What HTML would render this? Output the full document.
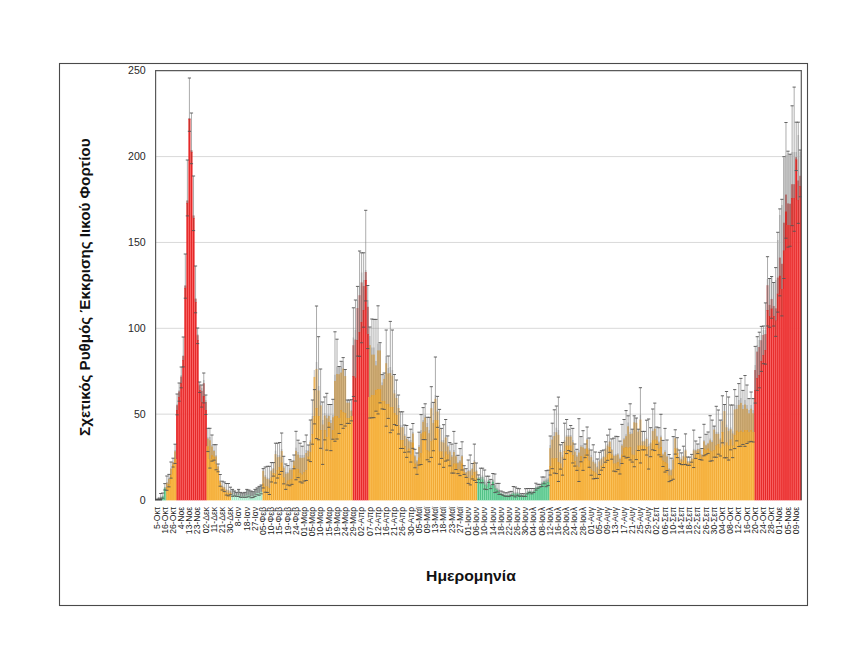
<!DOCTYPE html>
<html><head><meta charset="utf-8"><style>
html,body{margin:0;padding:0;background:#fff;}
body{width:868px;height:671px;overflow:hidden;}
svg{display:block;font-family:"Liberation Sans",sans-serif;}
</style></head><body>
<svg width="868" height="671" viewBox="0 0 868 671">
<rect width="868" height="671" fill="#fff"/>
<rect x="59.5" y="63.5" width="748" height="542" fill="none" stroke="#4a4a4a" stroke-width="1.1"/>
<g stroke="#D9D9D9" stroke-width="1"><line x1="156" x2="801.5" y1="414.15" y2="414.15"/><line x1="156" x2="801.5" y1="328.30" y2="328.30"/><line x1="156" x2="801.5" y1="242.45" y2="242.45"/><line x1="156" x2="801.5" y1="156.60" y2="156.60"/></g>
<g>
<rect x="157.85" y="496.90" width="1.64" height="1.80" fill="#D2D2D2"/>
<rect x="157.75" y="497.55" width="1.84" height="1.15" fill="#888"/>
<rect x="159.91" y="496.43" width="1.64" height="2.07" fill="#D2D2D2"/>
<rect x="159.80" y="497.21" width="1.84" height="1.29" fill="#888"/>
<rect x="161.96" y="495.60" width="1.64" height="1.90" fill="#D2D2D2"/>
<rect x="161.85" y="496.16" width="1.84" height="1.34" fill="#8FC0A6"/>
<rect x="164.00" y="486.79" width="1.64" height="2.21" fill="#D2D2D2"/>
<rect x="163.90" y="487.47" width="1.84" height="1.53" fill="#8FC0A6"/>
<rect x="166.06" y="482.00" width="1.64" height="5.50" fill="#D2D2D2"/>
<rect x="165.95" y="482.75" width="1.84" height="4.75" fill="#EDB55C"/>
<rect x="168.10" y="478.00" width="1.64" height="6.50" fill="#D2D2D2"/>
<rect x="168.00" y="478.90" width="1.84" height="5.60" fill="#EDB55C"/>
<rect x="170.16" y="468.00" width="1.64" height="6.90" fill="#D2D2D2"/>
<rect x="170.05" y="468.96" width="1.84" height="5.94" fill="#EDB55C"/>
<rect x="172.20" y="462.00" width="1.64" height="3.50" fill="#D2D2D2"/>
<rect x="172.10" y="462.45" width="1.84" height="3.05" fill="#EDB55C"/>
<rect x="174.25" y="450.00" width="1.64" height="9.50" fill="#D2D2D2"/>
<rect x="174.15" y="451.35" width="1.84" height="8.15" fill="#EDB55C"/>
<rect x="176.31" y="404.00" width="1.64" height="6.50" fill="#D2D2D2"/>
<rect x="176.20" y="405.20" width="1.84" height="5.30" fill="#C25D5A"/>
<rect x="178.35" y="390.00" width="1.64" height="7.50" fill="#D2D2D2"/>
<rect x="178.25" y="391.40" width="1.84" height="6.10" fill="#C25D5A"/>
<rect x="180.41" y="375.00" width="1.64" height="8.50" fill="#D2D2D2"/>
<rect x="180.30" y="376.60" width="1.84" height="6.90" fill="#C25D5A"/>
<rect x="182.45" y="355.00" width="1.64" height="5.50" fill="#D2D2D2"/>
<rect x="182.35" y="356.00" width="1.84" height="4.50" fill="#C25D5A"/>
<rect x="184.50" y="285.00" width="1.64" height="3.50" fill="#D2D2D2"/>
<rect x="184.40" y="285.60" width="1.84" height="2.90" fill="#C25D5A"/>
<rect x="186.56" y="200.00" width="1.64" height="3.50" fill="#D2D2D2"/>
<rect x="186.45" y="200.60" width="1.84" height="2.90" fill="#C25D5A"/>
<rect x="188.60" y="118.00" width="1.64" height="1.50" fill="#D2D2D2"/>
<rect x="188.50" y="118.20" width="1.84" height="1.30" fill="#C25D5A"/>
<rect x="190.66" y="150.00" width="1.64" height="2.50" fill="#D2D2D2"/>
<rect x="190.55" y="150.40" width="1.84" height="2.10" fill="#C25D5A"/>
<rect x="192.70" y="215.00" width="1.64" height="3.50" fill="#D2D2D2"/>
<rect x="192.60" y="215.60" width="1.84" height="2.90" fill="#C25D5A"/>
<rect x="194.75" y="298.00" width="1.64" height="4.50" fill="#D2D2D2"/>
<rect x="194.65" y="298.80" width="1.84" height="3.70" fill="#C25D5A"/>
<rect x="196.81" y="334.00" width="1.64" height="6.50" fill="#D2D2D2"/>
<rect x="196.70" y="335.20" width="1.84" height="5.30" fill="#C25D5A"/>
<rect x="198.85" y="384.00" width="1.64" height="6.50" fill="#D2D2D2"/>
<rect x="198.75" y="385.20" width="1.84" height="5.30" fill="#C25D5A"/>
<rect x="200.91" y="388.00" width="1.64" height="14.50" fill="#D2D2D2"/>
<rect x="200.80" y="390.80" width="1.84" height="11.70" fill="#C25D5A"/>
<rect x="202.95" y="380.00" width="1.64" height="16.50" fill="#D2D2D2"/>
<rect x="202.85" y="383.20" width="1.84" height="13.30" fill="#C25D5A"/>
<rect x="205.00" y="400.00" width="1.64" height="10.50" fill="#D2D2D2"/>
<rect x="204.90" y="402.00" width="1.84" height="8.50" fill="#C25D5A"/>
<rect x="207.06" y="437.30" width="1.64" height="9.40" fill="#D2D2D2"/>
<rect x="206.95" y="438.63" width="1.84" height="8.06" fill="#EDB55C"/>
<rect x="209.10" y="437.00" width="1.64" height="22.40" fill="#D2D2D2"/>
<rect x="209.00" y="440.28" width="1.84" height="19.12" fill="#EDB55C"/>
<rect x="211.16" y="445.00" width="1.64" height="10.60" fill="#D2D2D2"/>
<rect x="211.05" y="446.51" width="1.84" height="9.09" fill="#EDB55C"/>
<rect x="213.20" y="450.00" width="1.64" height="7.10" fill="#D2D2D2"/>
<rect x="213.10" y="450.99" width="1.84" height="6.11" fill="#EDB55C"/>
<rect x="215.25" y="455.00" width="1.64" height="9.50" fill="#D2D2D2"/>
<rect x="215.15" y="456.35" width="1.84" height="8.15" fill="#EDB55C"/>
<rect x="217.31" y="466.00" width="1.64" height="4.50" fill="#D2D2D2"/>
<rect x="217.20" y="466.60" width="1.84" height="3.90" fill="#EDB55C"/>
<rect x="219.35" y="480.35" width="1.64" height="3.65" fill="#D2D2D2"/>
<rect x="219.25" y="480.82" width="1.84" height="3.18" fill="#EDB55C"/>
<rect x="221.41" y="485.62" width="1.64" height="2.88" fill="#D2D2D2"/>
<rect x="221.30" y="485.98" width="1.84" height="2.52" fill="#EDB55C"/>
<rect x="223.45" y="486.81" width="1.64" height="3.09" fill="#D2D2D2"/>
<rect x="223.35" y="487.20" width="1.84" height="2.70" fill="#EDB55C"/>
<rect x="225.50" y="489.28" width="1.64" height="3.62" fill="#D2D2D2"/>
<rect x="225.40" y="489.75" width="1.84" height="3.15" fill="#EDB55C"/>
<rect x="227.56" y="489.68" width="1.64" height="3.82" fill="#D2D2D2"/>
<rect x="227.45" y="490.17" width="1.84" height="3.33" fill="#EDB55C"/>
<rect x="229.60" y="490.97" width="1.64" height="2.53" fill="#D2D2D2"/>
<rect x="229.50" y="491.27" width="1.84" height="2.23" fill="#EDB55C"/>
<rect x="231.66" y="489.90" width="1.64" height="5.30" fill="#D2D2D2"/>
<rect x="231.55" y="489.90" width="1.84" height="5.30" fill="#98A39E"/>
<rect x="233.70" y="491.50" width="1.64" height="3.80" fill="#D2D2D2"/>
<rect x="233.60" y="491.50" width="1.84" height="3.80" fill="#98A39E"/>
<rect x="235.75" y="492.90" width="1.64" height="3.00" fill="#D2D2D2"/>
<rect x="235.65" y="492.90" width="1.84" height="3.00" fill="#98A39E"/>
<rect x="237.81" y="489.90" width="1.64" height="5.40" fill="#D2D2D2"/>
<rect x="237.70" y="489.90" width="1.84" height="5.40" fill="#98A39E"/>
<rect x="239.85" y="492.90" width="1.64" height="3.80" fill="#D2D2D2"/>
<rect x="239.75" y="492.90" width="1.84" height="3.80" fill="#98A39E"/>
<rect x="241.90" y="493.50" width="1.64" height="3.20" fill="#D2D2D2"/>
<rect x="241.80" y="493.50" width="1.84" height="3.20" fill="#98A39E"/>
<rect x="243.95" y="492.90" width="1.64" height="3.80" fill="#D2D2D2"/>
<rect x="243.85" y="492.90" width="1.84" height="3.80" fill="#98A39E"/>
<rect x="246.00" y="489.90" width="1.64" height="6.00" fill="#D2D2D2"/>
<rect x="245.90" y="489.90" width="1.84" height="6.00" fill="#98A39E"/>
<rect x="248.06" y="490.50" width="1.64" height="4.80" fill="#D2D2D2"/>
<rect x="247.95" y="490.50" width="1.84" height="4.80" fill="#98A39E"/>
<rect x="250.10" y="491.50" width="1.64" height="5.20" fill="#D2D2D2"/>
<rect x="250.00" y="491.50" width="1.84" height="5.20" fill="#98A39E"/>
<rect x="252.15" y="492.20" width="1.64" height="4.50" fill="#D2D2D2"/>
<rect x="252.05" y="492.20" width="1.84" height="4.50" fill="#98A39E"/>
<rect x="254.20" y="489.90" width="1.64" height="5.40" fill="#D2D2D2"/>
<rect x="254.10" y="489.90" width="1.84" height="5.40" fill="#98A39E"/>
<rect x="256.25" y="488.40" width="1.64" height="5.30" fill="#D2D2D2"/>
<rect x="256.15" y="488.40" width="1.84" height="5.30" fill="#98A39E"/>
<rect x="258.31" y="486.90" width="1.64" height="6.80" fill="#D2D2D2"/>
<rect x="258.20" y="486.90" width="1.84" height="6.80" fill="#98A39E"/>
<rect x="260.35" y="485.50" width="1.64" height="6.80" fill="#D2D2D2"/>
<rect x="260.25" y="485.50" width="1.84" height="6.80" fill="#98A39E"/>
<rect x="262.40" y="468.60" width="1.64" height="15.40" fill="#D2D2D2"/>
<rect x="262.30" y="470.84" width="1.84" height="13.16" fill="#EDB55C"/>
<rect x="264.45" y="475.00" width="1.64" height="11.90" fill="#D2D2D2"/>
<rect x="264.35" y="476.71" width="1.84" height="10.19" fill="#EDB55C"/>
<rect x="266.50" y="477.50" width="1.64" height="9.40" fill="#D2D2D2"/>
<rect x="266.40" y="478.83" width="1.84" height="8.06" fill="#EDB55C"/>
<rect x="268.56" y="478.00" width="1.64" height="10.50" fill="#D2D2D2"/>
<rect x="268.45" y="479.50" width="1.84" height="9.00" fill="#EDB55C"/>
<rect x="270.60" y="470.00" width="1.64" height="8.00" fill="#D2D2D2"/>
<rect x="270.50" y="471.12" width="1.84" height="6.88" fill="#EDB55C"/>
<rect x="272.65" y="468.00" width="1.64" height="5.50" fill="#D2D2D2"/>
<rect x="272.55" y="468.75" width="1.84" height="4.75" fill="#EDB55C"/>
<rect x="274.70" y="450.70" width="1.64" height="23.60" fill="#D2D2D2"/>
<rect x="274.60" y="454.16" width="1.84" height="20.14" fill="#EDB55C"/>
<rect x="276.75" y="455.00" width="1.64" height="15.50" fill="#D2D2D2"/>
<rect x="276.65" y="457.25" width="1.84" height="13.25" fill="#EDB55C"/>
<rect x="278.81" y="455.00" width="1.64" height="12.50" fill="#D2D2D2"/>
<rect x="278.70" y="456.80" width="1.84" height="10.70" fill="#EDB55C"/>
<rect x="280.85" y="449.00" width="1.64" height="14.10" fill="#D2D2D2"/>
<rect x="280.75" y="451.04" width="1.84" height="12.06" fill="#EDB55C"/>
<rect x="282.91" y="466.00" width="1.64" height="12.00" fill="#D2D2D2"/>
<rect x="282.80" y="467.73" width="1.84" height="10.27" fill="#EDB55C"/>
<rect x="284.95" y="472.00" width="1.64" height="12.00" fill="#D2D2D2"/>
<rect x="284.85" y="473.73" width="1.84" height="10.27" fill="#EDB55C"/>
<rect x="287.00" y="472.00" width="1.64" height="9.00" fill="#D2D2D2"/>
<rect x="286.90" y="473.27" width="1.84" height="7.73" fill="#EDB55C"/>
<rect x="289.06" y="468.00" width="1.64" height="12.20" fill="#D2D2D2"/>
<rect x="288.95" y="469.75" width="1.84" height="10.44" fill="#EDB55C"/>
<rect x="291.10" y="468.00" width="1.64" height="11.50" fill="#D2D2D2"/>
<rect x="291.00" y="469.65" width="1.84" height="9.85" fill="#EDB55C"/>
<rect x="293.16" y="460.00" width="1.64" height="6.10" fill="#D2D2D2"/>
<rect x="293.05" y="460.84" width="1.84" height="5.26" fill="#EDB55C"/>
<rect x="295.20" y="447.70" width="1.64" height="21.40" fill="#D2D2D2"/>
<rect x="295.10" y="450.83" width="1.84" height="18.27" fill="#EDB55C"/>
<rect x="297.25" y="452.00" width="1.64" height="17.50" fill="#D2D2D2"/>
<rect x="297.15" y="454.55" width="1.84" height="14.95" fill="#EDB55C"/>
<rect x="299.31" y="455.00" width="1.64" height="18.50" fill="#D2D2D2"/>
<rect x="299.20" y="457.70" width="1.84" height="15.80" fill="#EDB55C"/>
<rect x="301.35" y="455.00" width="1.64" height="20.00" fill="#D2D2D2"/>
<rect x="301.25" y="457.93" width="1.84" height="17.07" fill="#EDB55C"/>
<rect x="303.41" y="455.00" width="1.64" height="17.50" fill="#D2D2D2"/>
<rect x="303.30" y="457.55" width="1.84" height="14.95" fill="#EDB55C"/>
<rect x="305.45" y="450.00" width="1.64" height="20.50" fill="#D2D2D2"/>
<rect x="305.35" y="453.00" width="1.84" height="17.50" fill="#EDB55C"/>
<rect x="307.50" y="450.00" width="1.64" height="7.10" fill="#D2D2D2"/>
<rect x="307.40" y="450.99" width="1.84" height="6.11" fill="#EDB55C"/>
<rect x="309.56" y="440.00" width="1.64" height="12.50" fill="#D2D2D2"/>
<rect x="309.45" y="441.80" width="1.84" height="10.70" fill="#EDB55C"/>
<rect x="311.60" y="416.00" width="1.64" height="18.50" fill="#D2D2D2"/>
<rect x="311.50" y="418.70" width="1.84" height="15.80" fill="#EDB55C"/>
<rect x="313.66" y="370.00" width="1.64" height="46.50" fill="#D2D2D2"/>
<rect x="313.55" y="376.90" width="1.84" height="39.60" fill="#EDB55C"/>
<rect x="315.70" y="362.00" width="1.64" height="46.50" fill="#D2D2D2"/>
<rect x="315.60" y="368.90" width="1.84" height="39.60" fill="#EDB55C"/>
<rect x="317.75" y="386.00" width="1.64" height="30.50" fill="#D2D2D2"/>
<rect x="317.65" y="390.50" width="1.84" height="26.00" fill="#EDB55C"/>
<rect x="319.81" y="401.00" width="1.64" height="29.50" fill="#D2D2D2"/>
<rect x="319.70" y="405.35" width="1.84" height="25.15" fill="#EDB55C"/>
<rect x="321.85" y="420.00" width="1.64" height="30.50" fill="#D2D2D2"/>
<rect x="321.75" y="424.50" width="1.84" height="26.00" fill="#EDB55C"/>
<rect x="323.90" y="413.00" width="1.64" height="17.50" fill="#D2D2D2"/>
<rect x="323.80" y="415.55" width="1.84" height="14.95" fill="#EDB55C"/>
<rect x="325.95" y="415.00" width="1.64" height="22.50" fill="#D2D2D2"/>
<rect x="325.85" y="418.30" width="1.84" height="19.20" fill="#EDB55C"/>
<rect x="328.00" y="415.00" width="1.64" height="7.50" fill="#D2D2D2"/>
<rect x="327.90" y="416.05" width="1.84" height="6.45" fill="#EDB55C"/>
<rect x="330.06" y="420.00" width="1.64" height="20.50" fill="#D2D2D2"/>
<rect x="329.95" y="423.00" width="1.84" height="17.50" fill="#EDB55C"/>
<rect x="332.10" y="415.00" width="1.64" height="15.50" fill="#D2D2D2"/>
<rect x="332.00" y="417.25" width="1.84" height="13.25" fill="#EDB55C"/>
<rect x="334.15" y="374.70" width="1.64" height="41.80" fill="#D2D2D2"/>
<rect x="334.05" y="380.89" width="1.84" height="35.61" fill="#EDB55C"/>
<rect x="336.20" y="366.50" width="1.64" height="50.00" fill="#D2D2D2"/>
<rect x="336.10" y="373.93" width="1.84" height="42.57" fill="#EDB55C"/>
<rect x="338.25" y="366.50" width="1.64" height="52.00" fill="#D2D2D2"/>
<rect x="338.15" y="374.23" width="1.84" height="44.27" fill="#EDB55C"/>
<rect x="340.31" y="366.00" width="1.64" height="44.50" fill="#D2D2D2"/>
<rect x="340.20" y="372.60" width="1.84" height="37.90" fill="#EDB55C"/>
<rect x="342.35" y="361.00" width="1.64" height="51.50" fill="#D2D2D2"/>
<rect x="342.25" y="368.65" width="1.84" height="43.85" fill="#EDB55C"/>
<rect x="344.40" y="369.50" width="1.64" height="44.00" fill="#D2D2D2"/>
<rect x="344.30" y="376.02" width="1.84" height="37.48" fill="#EDB55C"/>
<rect x="346.45" y="400.00" width="1.64" height="18.50" fill="#D2D2D2"/>
<rect x="346.35" y="402.70" width="1.84" height="15.80" fill="#EDB55C"/>
<rect x="348.50" y="400.00" width="1.64" height="18.50" fill="#D2D2D2"/>
<rect x="348.40" y="402.70" width="1.84" height="15.80" fill="#EDB55C"/>
<rect x="350.56" y="410.00" width="1.64" height="6.50" fill="#D2D2D2"/>
<rect x="350.45" y="410.90" width="1.84" height="5.60" fill="#EDB55C"/>
<rect x="352.60" y="337.50" width="1.64" height="39.00" fill="#D2D2D2"/>
<rect x="352.50" y="345.20" width="1.84" height="31.30" fill="#C25D5A"/>
<rect x="354.65" y="330.00" width="1.64" height="48.20" fill="#D2D2D2"/>
<rect x="354.55" y="339.54" width="1.84" height="38.66" fill="#C25D5A"/>
<rect x="356.70" y="300.00" width="1.64" height="40.50" fill="#D2D2D2"/>
<rect x="356.60" y="308.00" width="1.84" height="32.50" fill="#C25D5A"/>
<rect x="358.75" y="286.00" width="1.64" height="46.50" fill="#D2D2D2"/>
<rect x="358.65" y="295.20" width="1.84" height="37.30" fill="#C25D5A"/>
<rect x="360.81" y="272.50" width="1.64" height="50.00" fill="#D2D2D2"/>
<rect x="360.70" y="282.40" width="1.84" height="40.10" fill="#C25D5A"/>
<rect x="362.85" y="280.00" width="1.64" height="30.50" fill="#D2D2D2"/>
<rect x="362.75" y="286.00" width="1.84" height="24.50" fill="#C25D5A"/>
<rect x="364.90" y="270.00" width="1.64" height="10.50" fill="#D2D2D2"/>
<rect x="364.80" y="272.00" width="1.84" height="8.50" fill="#C25D5A"/>
<rect x="366.95" y="300.00" width="1.64" height="34.50" fill="#D2D2D2"/>
<rect x="366.85" y="306.80" width="1.84" height="27.70" fill="#C25D5A"/>
<rect x="369.00" y="336.00" width="1.64" height="61.50" fill="#D2D2D2"/>
<rect x="368.90" y="345.15" width="1.84" height="52.35" fill="#EDB55C"/>
<rect x="371.06" y="347.50" width="1.64" height="48.00" fill="#D2D2D2"/>
<rect x="370.95" y="354.62" width="1.84" height="40.88" fill="#EDB55C"/>
<rect x="373.10" y="347.50" width="1.64" height="48.00" fill="#D2D2D2"/>
<rect x="373.00" y="354.62" width="1.84" height="40.88" fill="#EDB55C"/>
<rect x="375.15" y="361.00" width="1.64" height="29.50" fill="#D2D2D2"/>
<rect x="375.05" y="365.35" width="1.84" height="25.15" fill="#EDB55C"/>
<rect x="377.20" y="343.60" width="1.64" height="45.90" fill="#D2D2D2"/>
<rect x="377.10" y="350.41" width="1.84" height="39.09" fill="#EDB55C"/>
<rect x="379.25" y="343.60" width="1.64" height="45.90" fill="#D2D2D2"/>
<rect x="379.15" y="350.41" width="1.84" height="39.09" fill="#EDB55C"/>
<rect x="381.31" y="382.40" width="1.64" height="19.10" fill="#D2D2D2"/>
<rect x="381.20" y="385.19" width="1.84" height="16.31" fill="#EDB55C"/>
<rect x="383.35" y="375.00" width="1.64" height="26.50" fill="#D2D2D2"/>
<rect x="383.25" y="378.90" width="1.84" height="22.60" fill="#EDB55C"/>
<rect x="385.40" y="356.00" width="1.64" height="48.50" fill="#D2D2D2"/>
<rect x="385.30" y="363.20" width="1.84" height="41.30" fill="#EDB55C"/>
<rect x="387.45" y="368.00" width="1.64" height="36.50" fill="#D2D2D2"/>
<rect x="387.35" y="373.40" width="1.84" height="31.10" fill="#EDB55C"/>
<rect x="389.50" y="367.00" width="1.64" height="40.50" fill="#D2D2D2"/>
<rect x="389.40" y="373.00" width="1.84" height="34.50" fill="#EDB55C"/>
<rect x="391.56" y="370.00" width="1.64" height="37.50" fill="#D2D2D2"/>
<rect x="391.45" y="375.55" width="1.84" height="31.95" fill="#EDB55C"/>
<rect x="393.60" y="390.00" width="1.64" height="23.50" fill="#D2D2D2"/>
<rect x="393.50" y="393.45" width="1.84" height="20.05" fill="#EDB55C"/>
<rect x="395.65" y="395.00" width="1.64" height="20.50" fill="#D2D2D2"/>
<rect x="395.55" y="398.00" width="1.84" height="17.50" fill="#EDB55C"/>
<rect x="397.70" y="405.00" width="1.64" height="20.50" fill="#D2D2D2"/>
<rect x="397.60" y="408.00" width="1.84" height="17.50" fill="#EDB55C"/>
<rect x="399.75" y="425.00" width="1.64" height="15.50" fill="#D2D2D2"/>
<rect x="399.65" y="427.25" width="1.84" height="13.25" fill="#EDB55C"/>
<rect x="401.81" y="425.00" width="1.64" height="15.50" fill="#D2D2D2"/>
<rect x="401.70" y="427.25" width="1.84" height="13.25" fill="#EDB55C"/>
<rect x="403.85" y="434.00" width="1.64" height="12.50" fill="#D2D2D2"/>
<rect x="403.75" y="435.80" width="1.84" height="10.70" fill="#EDB55C"/>
<rect x="405.90" y="437.00" width="1.64" height="13.50" fill="#D2D2D2"/>
<rect x="405.80" y="438.95" width="1.84" height="11.55" fill="#EDB55C"/>
<rect x="407.95" y="440.00" width="1.64" height="9.10" fill="#D2D2D2"/>
<rect x="407.85" y="441.29" width="1.84" height="7.81" fill="#EDB55C"/>
<rect x="410.00" y="440.00" width="1.64" height="15.00" fill="#D2D2D2"/>
<rect x="409.90" y="442.18" width="1.84" height="12.82" fill="#EDB55C"/>
<rect x="412.06" y="432.00" width="1.64" height="11.10" fill="#D2D2D2"/>
<rect x="411.95" y="433.59" width="1.84" height="9.51" fill="#EDB55C"/>
<rect x="414.10" y="455.00" width="1.64" height="9.00" fill="#D2D2D2"/>
<rect x="414.00" y="456.27" width="1.84" height="7.73" fill="#EDB55C"/>
<rect x="416.16" y="460.00" width="1.64" height="9.90" fill="#D2D2D2"/>
<rect x="416.05" y="461.41" width="1.84" height="8.49" fill="#EDB55C"/>
<rect x="418.20" y="445.00" width="1.64" height="13.00" fill="#D2D2D2"/>
<rect x="418.10" y="446.88" width="1.84" height="11.12" fill="#EDB55C"/>
<rect x="420.25" y="430.00" width="1.64" height="23.50" fill="#D2D2D2"/>
<rect x="420.15" y="433.45" width="1.84" height="20.05" fill="#EDB55C"/>
<rect x="422.31" y="420.00" width="1.64" height="12.70" fill="#D2D2D2"/>
<rect x="422.20" y="421.83" width="1.84" height="10.87" fill="#EDB55C"/>
<rect x="424.35" y="415.00" width="1.64" height="16.90" fill="#D2D2D2"/>
<rect x="424.25" y="417.46" width="1.84" height="14.44" fill="#EDB55C"/>
<rect x="426.41" y="423.00" width="1.64" height="27.50" fill="#D2D2D2"/>
<rect x="426.30" y="427.05" width="1.84" height="23.45" fill="#EDB55C"/>
<rect x="428.45" y="430.00" width="1.64" height="22.00" fill="#D2D2D2"/>
<rect x="428.35" y="433.23" width="1.84" height="18.77" fill="#EDB55C"/>
<rect x="430.50" y="402.40" width="1.64" height="39.20" fill="#D2D2D2"/>
<rect x="430.40" y="408.20" width="1.84" height="33.40" fill="#EDB55C"/>
<rect x="432.56" y="420.00" width="1.64" height="20.10" fill="#D2D2D2"/>
<rect x="432.45" y="422.94" width="1.84" height="17.16" fill="#EDB55C"/>
<rect x="434.60" y="395.00" width="1.64" height="25.70" fill="#D2D2D2"/>
<rect x="434.50" y="398.78" width="1.84" height="21.92" fill="#EDB55C"/>
<rect x="436.66" y="410.00" width="1.64" height="10.70" fill="#D2D2D2"/>
<rect x="436.55" y="411.53" width="1.84" height="9.17" fill="#EDB55C"/>
<rect x="438.70" y="425.00" width="1.64" height="27.00" fill="#D2D2D2"/>
<rect x="438.60" y="428.98" width="1.84" height="23.02" fill="#EDB55C"/>
<rect x="440.75" y="440.00" width="1.64" height="12.00" fill="#D2D2D2"/>
<rect x="440.65" y="441.73" width="1.84" height="10.27" fill="#EDB55C"/>
<rect x="442.81" y="440.00" width="1.64" height="18.00" fill="#D2D2D2"/>
<rect x="442.70" y="442.62" width="1.84" height="15.38" fill="#EDB55C"/>
<rect x="444.85" y="435.00" width="1.64" height="17.00" fill="#D2D2D2"/>
<rect x="444.75" y="437.48" width="1.84" height="14.52" fill="#EDB55C"/>
<rect x="446.91" y="445.00" width="1.64" height="10.00" fill="#D2D2D2"/>
<rect x="446.80" y="446.43" width="1.84" height="8.57" fill="#EDB55C"/>
<rect x="448.95" y="450.00" width="1.64" height="11.00" fill="#D2D2D2"/>
<rect x="448.85" y="451.57" width="1.84" height="9.43" fill="#EDB55C"/>
<rect x="451.00" y="455.00" width="1.64" height="11.90" fill="#D2D2D2"/>
<rect x="450.90" y="456.71" width="1.84" height="10.19" fill="#EDB55C"/>
<rect x="453.06" y="450.00" width="1.64" height="14.00" fill="#D2D2D2"/>
<rect x="452.95" y="452.02" width="1.84" height="11.98" fill="#EDB55C"/>
<rect x="455.10" y="455.00" width="1.64" height="9.00" fill="#D2D2D2"/>
<rect x="455.00" y="456.27" width="1.84" height="7.73" fill="#EDB55C"/>
<rect x="457.16" y="462.00" width="1.64" height="7.90" fill="#D2D2D2"/>
<rect x="457.05" y="463.11" width="1.84" height="6.79" fill="#EDB55C"/>
<rect x="459.20" y="460.00" width="1.64" height="9.90" fill="#D2D2D2"/>
<rect x="459.10" y="461.41" width="1.84" height="8.49" fill="#EDB55C"/>
<rect x="461.25" y="455.00" width="1.64" height="9.00" fill="#D2D2D2"/>
<rect x="461.15" y="456.27" width="1.84" height="7.73" fill="#EDB55C"/>
<rect x="463.31" y="468.00" width="1.64" height="4.90" fill="#D2D2D2"/>
<rect x="463.20" y="468.66" width="1.84" height="4.24" fill="#EDB55C"/>
<rect x="465.35" y="472.00" width="1.64" height="3.90" fill="#D2D2D2"/>
<rect x="465.25" y="472.51" width="1.84" height="3.39" fill="#EDB55C"/>
<rect x="467.41" y="470.00" width="1.64" height="8.50" fill="#D2D2D2"/>
<rect x="467.30" y="471.20" width="1.84" height="7.30" fill="#EDB55C"/>
<rect x="469.45" y="470.00" width="1.64" height="8.50" fill="#D2D2D2"/>
<rect x="469.35" y="471.20" width="1.84" height="7.30" fill="#EDB55C"/>
<rect x="471.50" y="468.00" width="1.64" height="7.90" fill="#D2D2D2"/>
<rect x="471.40" y="469.11" width="1.84" height="6.79" fill="#EDB55C"/>
<rect x="473.56" y="460.00" width="1.64" height="12.50" fill="#D2D2D2"/>
<rect x="473.45" y="461.80" width="1.84" height="10.70" fill="#EDB55C"/>
<rect x="475.60" y="470.00" width="1.64" height="8.50" fill="#D2D2D2"/>
<rect x="475.50" y="471.20" width="1.84" height="7.30" fill="#EDB55C"/>
<rect x="477.66" y="477.24" width="1.64" height="1.76" fill="#D2D2D2"/>
<rect x="477.55" y="477.74" width="1.84" height="1.26" fill="#8FC0A6"/>
<rect x="479.70" y="475.48" width="1.64" height="4.42" fill="#D2D2D2"/>
<rect x="479.60" y="477.05" width="1.84" height="2.85" fill="#8FC0A6"/>
<rect x="481.75" y="475.48" width="1.64" height="4.42" fill="#D2D2D2"/>
<rect x="481.65" y="477.05" width="1.84" height="2.85" fill="#8FC0A6"/>
<rect x="483.81" y="479.56" width="1.64" height="5.64" fill="#D2D2D2"/>
<rect x="483.70" y="481.61" width="1.84" height="3.59" fill="#8FC0A6"/>
<rect x="485.85" y="482.89" width="1.64" height="4.11" fill="#D2D2D2"/>
<rect x="485.75" y="484.34" width="1.84" height="2.66" fill="#8FC0A6"/>
<rect x="487.90" y="479.38" width="1.64" height="2.22" fill="#D2D2D2"/>
<rect x="487.80" y="480.07" width="1.84" height="1.53" fill="#8FC0A6"/>
<rect x="489.95" y="484.01" width="1.64" height="2.99" fill="#D2D2D2"/>
<rect x="489.85" y="485.01" width="1.84" height="1.99" fill="#8FC0A6"/>
<rect x="492.00" y="479.02" width="1.64" height="3.48" fill="#D2D2D2"/>
<rect x="491.90" y="480.21" width="1.84" height="2.29" fill="#8FC0A6"/>
<rect x="494.06" y="483.30" width="1.64" height="5.50" fill="#D2D2D2"/>
<rect x="493.95" y="485.30" width="1.84" height="3.50" fill="#8FC0A6"/>
<rect x="496.10" y="487.69" width="1.64" height="2.81" fill="#D2D2D2"/>
<rect x="496.00" y="488.61" width="1.84" height="1.89" fill="#8FC0A6"/>
<rect x="498.15" y="488.92" width="1.64" height="3.48" fill="#D2D2D2"/>
<rect x="498.05" y="490.11" width="1.84" height="2.29" fill="#8FC0A6"/>
<rect x="500.20" y="492.75" width="1.64" height="1.44" fill="#D2D2D2"/>
<rect x="500.10" y="493.13" width="1.84" height="1.07" fill="#8FC0A6"/>
<rect x="502.25" y="493.66" width="1.64" height="1.44" fill="#D2D2D2"/>
<rect x="502.15" y="494.03" width="1.84" height="1.07" fill="#8FC0A6"/>
<rect x="504.31" y="494.56" width="1.64" height="1.44" fill="#D2D2D2"/>
<rect x="504.20" y="494.93" width="1.84" height="1.07" fill="#8FC0A6"/>
<rect x="506.35" y="494.56" width="1.64" height="1.44" fill="#D2D2D2"/>
<rect x="506.25" y="494.93" width="1.84" height="1.07" fill="#8FC0A6"/>
<rect x="508.40" y="494.24" width="1.64" height="1.76" fill="#D2D2D2"/>
<rect x="508.30" y="494.74" width="1.84" height="1.26" fill="#8FC0A6"/>
<rect x="510.45" y="493.48" width="1.64" height="1.62" fill="#D2D2D2"/>
<rect x="510.35" y="493.93" width="1.84" height="1.17" fill="#8FC0A6"/>
<rect x="512.50" y="491.18" width="1.64" height="3.02" fill="#D2D2D2"/>
<rect x="512.40" y="492.19" width="1.84" height="2.01" fill="#8FC0A6"/>
<rect x="514.55" y="491.94" width="1.64" height="3.16" fill="#D2D2D2"/>
<rect x="514.45" y="493.00" width="1.84" height="2.10" fill="#8FC0A6"/>
<rect x="516.60" y="491.81" width="1.64" height="2.39" fill="#D2D2D2"/>
<rect x="516.50" y="492.57" width="1.84" height="1.63" fill="#8FC0A6"/>
<rect x="518.65" y="492.54" width="1.64" height="2.56" fill="#D2D2D2"/>
<rect x="518.55" y="493.36" width="1.84" height="1.74" fill="#8FC0A6"/>
<rect x="520.70" y="494.87" width="1.64" height="1.13" fill="#D2D2D2"/>
<rect x="520.60" y="495.12" width="1.84" height="0.88" fill="#8FC0A6"/>
<rect x="522.75" y="495.06" width="1.64" height="1.24" fill="#D2D2D2"/>
<rect x="522.65" y="495.36" width="1.84" height="0.94" fill="#8FC0A6"/>
<rect x="524.80" y="492.54" width="1.64" height="2.56" fill="#D2D2D2"/>
<rect x="524.70" y="493.36" width="1.84" height="1.74" fill="#8FC0A6"/>
<rect x="526.85" y="491.17" width="1.64" height="1.94" fill="#D2D2D2"/>
<rect x="526.75" y="491.74" width="1.84" height="1.36" fill="#8FC0A6"/>
<rect x="528.90" y="490.51" width="1.64" height="1.59" fill="#D2D2D2"/>
<rect x="528.80" y="490.95" width="1.84" height="1.15" fill="#8FC0A6"/>
<rect x="530.95" y="491.17" width="1.64" height="1.94" fill="#D2D2D2"/>
<rect x="530.85" y="491.74" width="1.84" height="1.36" fill="#8FC0A6"/>
<rect x="533.00" y="490.51" width="1.64" height="1.59" fill="#D2D2D2"/>
<rect x="532.90" y="490.95" width="1.84" height="1.15" fill="#8FC0A6"/>
<rect x="535.05" y="486.64" width="1.64" height="2.36" fill="#D2D2D2"/>
<rect x="534.95" y="487.39" width="1.84" height="1.61" fill="#8FC0A6"/>
<rect x="537.10" y="486.31" width="1.64" height="1.58" fill="#D2D2D2"/>
<rect x="537.00" y="486.75" width="1.84" height="1.15" fill="#8FC0A6"/>
<rect x="539.15" y="485.66" width="1.64" height="1.24" fill="#D2D2D2"/>
<rect x="539.05" y="485.96" width="1.84" height="0.94" fill="#8FC0A6"/>
<rect x="541.20" y="481.75" width="1.64" height="3.06" fill="#D2D2D2"/>
<rect x="541.10" y="482.77" width="1.84" height="2.03" fill="#8FC0A6"/>
<rect x="543.25" y="480.38" width="1.64" height="2.32" fill="#D2D2D2"/>
<rect x="543.15" y="481.11" width="1.84" height="1.59" fill="#8FC0A6"/>
<rect x="545.30" y="478.69" width="1.64" height="4.81" fill="#D2D2D2"/>
<rect x="545.20" y="480.42" width="1.84" height="3.08" fill="#8FC0A6"/>
<rect x="547.35" y="477.87" width="1.64" height="4.63" fill="#D2D2D2"/>
<rect x="547.25" y="479.52" width="1.84" height="2.98" fill="#8FC0A6"/>
<rect x="549.40" y="445.00" width="1.64" height="21.50" fill="#D2D2D2"/>
<rect x="549.30" y="448.15" width="1.84" height="18.35" fill="#EDB55C"/>
<rect x="551.45" y="436.30" width="1.64" height="22.40" fill="#D2D2D2"/>
<rect x="551.35" y="439.59" width="1.84" height="19.11" fill="#EDB55C"/>
<rect x="553.50" y="432.00" width="1.64" height="27.00" fill="#D2D2D2"/>
<rect x="553.40" y="435.98" width="1.84" height="23.02" fill="#EDB55C"/>
<rect x="555.55" y="427.70" width="1.64" height="30.80" fill="#D2D2D2"/>
<rect x="555.45" y="432.25" width="1.84" height="26.25" fill="#EDB55C"/>
<rect x="557.60" y="430.00" width="1.64" height="32.50" fill="#D2D2D2"/>
<rect x="557.50" y="434.80" width="1.84" height="27.70" fill="#EDB55C"/>
<rect x="559.65" y="450.00" width="1.64" height="14.00" fill="#D2D2D2"/>
<rect x="559.55" y="452.02" width="1.84" height="11.98" fill="#EDB55C"/>
<rect x="561.70" y="455.00" width="1.64" height="13.10" fill="#D2D2D2"/>
<rect x="561.60" y="456.89" width="1.84" height="11.21" fill="#EDB55C"/>
<rect x="563.75" y="440.00" width="1.64" height="11.50" fill="#D2D2D2"/>
<rect x="563.65" y="441.65" width="1.84" height="9.85" fill="#EDB55C"/>
<rect x="565.80" y="435.00" width="1.64" height="11.20" fill="#D2D2D2"/>
<rect x="565.70" y="436.61" width="1.84" height="9.59" fill="#EDB55C"/>
<rect x="567.85" y="435.00" width="1.64" height="11.10" fill="#D2D2D2"/>
<rect x="567.75" y="436.59" width="1.84" height="9.51" fill="#EDB55C"/>
<rect x="569.90" y="435.00" width="1.64" height="11.10" fill="#D2D2D2"/>
<rect x="569.80" y="436.59" width="1.84" height="9.51" fill="#EDB55C"/>
<rect x="571.95" y="440.00" width="1.64" height="15.50" fill="#D2D2D2"/>
<rect x="571.85" y="442.25" width="1.84" height="13.25" fill="#EDB55C"/>
<rect x="574.00" y="450.00" width="1.64" height="11.50" fill="#D2D2D2"/>
<rect x="573.90" y="451.65" width="1.84" height="9.85" fill="#EDB55C"/>
<rect x="576.05" y="455.00" width="1.64" height="11.00" fill="#D2D2D2"/>
<rect x="575.95" y="456.57" width="1.84" height="9.43" fill="#EDB55C"/>
<rect x="578.10" y="450.00" width="1.64" height="17.50" fill="#D2D2D2"/>
<rect x="578.00" y="452.55" width="1.84" height="14.95" fill="#EDB55C"/>
<rect x="580.15" y="445.00" width="1.64" height="11.50" fill="#D2D2D2"/>
<rect x="580.05" y="446.65" width="1.84" height="9.85" fill="#EDB55C"/>
<rect x="582.20" y="445.00" width="1.64" height="16.70" fill="#D2D2D2"/>
<rect x="582.10" y="447.43" width="1.84" height="14.27" fill="#EDB55C"/>
<rect x="584.25" y="448.00" width="1.64" height="7.00" fill="#D2D2D2"/>
<rect x="584.15" y="448.98" width="1.84" height="6.02" fill="#EDB55C"/>
<rect x="586.30" y="438.00" width="1.64" height="11.10" fill="#D2D2D2"/>
<rect x="586.20" y="439.59" width="1.84" height="9.51" fill="#EDB55C"/>
<rect x="588.35" y="448.00" width="1.64" height="13.00" fill="#D2D2D2"/>
<rect x="588.25" y="449.88" width="1.84" height="11.12" fill="#EDB55C"/>
<rect x="590.40" y="455.00" width="1.64" height="14.90" fill="#D2D2D2"/>
<rect x="590.30" y="457.16" width="1.84" height="12.74" fill="#EDB55C"/>
<rect x="592.45" y="460.00" width="1.64" height="11.50" fill="#D2D2D2"/>
<rect x="592.35" y="461.65" width="1.84" height="9.85" fill="#EDB55C"/>
<rect x="594.50" y="462.00" width="1.64" height="10.90" fill="#D2D2D2"/>
<rect x="594.40" y="463.56" width="1.84" height="9.34" fill="#EDB55C"/>
<rect x="596.55" y="466.00" width="1.64" height="8.40" fill="#D2D2D2"/>
<rect x="596.45" y="467.19" width="1.84" height="7.21" fill="#EDB55C"/>
<rect x="598.60" y="460.00" width="1.64" height="9.90" fill="#D2D2D2"/>
<rect x="598.50" y="461.41" width="1.84" height="8.49" fill="#EDB55C"/>
<rect x="600.65" y="458.00" width="1.64" height="8.20" fill="#D2D2D2"/>
<rect x="600.55" y="459.15" width="1.84" height="7.05" fill="#EDB55C"/>
<rect x="602.70" y="456.00" width="1.64" height="8.00" fill="#D2D2D2"/>
<rect x="602.60" y="457.12" width="1.84" height="6.88" fill="#EDB55C"/>
<rect x="604.75" y="448.00" width="1.64" height="10.00" fill="#D2D2D2"/>
<rect x="604.65" y="449.43" width="1.84" height="8.57" fill="#EDB55C"/>
<rect x="606.80" y="444.00" width="1.64" height="11.00" fill="#D2D2D2"/>
<rect x="606.70" y="445.57" width="1.84" height="9.43" fill="#EDB55C"/>
<rect x="608.85" y="440.77" width="1.64" height="6.73" fill="#D2D2D2"/>
<rect x="608.75" y="441.70" width="1.84" height="5.80" fill="#EDB55C"/>
<rect x="610.90" y="449.04" width="1.64" height="5.96" fill="#D2D2D2"/>
<rect x="610.80" y="449.86" width="1.84" height="5.14" fill="#EDB55C"/>
<rect x="612.95" y="454.61" width="1.64" height="9.39" fill="#D2D2D2"/>
<rect x="612.85" y="455.94" width="1.84" height="8.06" fill="#EDB55C"/>
<rect x="615.00" y="453.98" width="1.64" height="10.02" fill="#D2D2D2"/>
<rect x="614.90" y="455.41" width="1.84" height="8.59" fill="#EDB55C"/>
<rect x="617.05" y="453.11" width="1.64" height="9.39" fill="#D2D2D2"/>
<rect x="616.95" y="454.44" width="1.84" height="8.06" fill="#EDB55C"/>
<rect x="619.10" y="457.55" width="1.64" height="9.35" fill="#D2D2D2"/>
<rect x="619.00" y="458.87" width="1.84" height="8.03" fill="#EDB55C"/>
<rect x="621.15" y="443.96" width="1.64" height="11.04" fill="#D2D2D2"/>
<rect x="621.05" y="445.55" width="1.84" height="9.45" fill="#EDB55C"/>
<rect x="623.20" y="437.89" width="1.64" height="10.41" fill="#D2D2D2"/>
<rect x="623.10" y="439.38" width="1.84" height="8.92" fill="#EDB55C"/>
<rect x="625.25" y="434.26" width="1.64" height="13.24" fill="#D2D2D2"/>
<rect x="625.15" y="436.17" width="1.84" height="11.33" fill="#EDB55C"/>
<rect x="627.30" y="422.50" width="1.64" height="25.80" fill="#D2D2D2"/>
<rect x="627.20" y="426.30" width="1.84" height="22.00" fill="#EDB55C"/>
<rect x="629.35" y="431.88" width="1.64" height="15.62" fill="#D2D2D2"/>
<rect x="629.25" y="434.15" width="1.84" height="13.35" fill="#EDB55C"/>
<rect x="631.40" y="430.00" width="1.64" height="25.00" fill="#D2D2D2"/>
<rect x="631.30" y="433.68" width="1.84" height="21.32" fill="#EDB55C"/>
<rect x="633.45" y="416.50" width="1.64" height="39.00" fill="#D2D2D2"/>
<rect x="633.35" y="422.27" width="1.84" height="33.23" fill="#EDB55C"/>
<rect x="635.50" y="418.00" width="1.64" height="32.50" fill="#D2D2D2"/>
<rect x="635.40" y="422.80" width="1.84" height="27.70" fill="#EDB55C"/>
<rect x="637.55" y="429.20" width="1.64" height="16.90" fill="#D2D2D2"/>
<rect x="637.45" y="431.66" width="1.84" height="14.44" fill="#EDB55C"/>
<rect x="639.60" y="415.00" width="1.64" height="31.10" fill="#D2D2D2"/>
<rect x="639.50" y="419.59" width="1.84" height="26.51" fill="#EDB55C"/>
<rect x="641.65" y="440.63" width="1.64" height="5.47" fill="#D2D2D2"/>
<rect x="641.55" y="441.38" width="1.84" height="4.72" fill="#EDB55C"/>
<rect x="643.70" y="440.63" width="1.64" height="5.47" fill="#D2D2D2"/>
<rect x="643.60" y="441.38" width="1.84" height="4.72" fill="#EDB55C"/>
<rect x="645.75" y="437.62" width="1.64" height="9.88" fill="#D2D2D2"/>
<rect x="645.65" y="439.03" width="1.84" height="8.47" fill="#EDB55C"/>
<rect x="647.80" y="444.02" width="1.64" height="13.98" fill="#D2D2D2"/>
<rect x="647.70" y="446.05" width="1.84" height="11.95" fill="#EDB55C"/>
<rect x="649.85" y="442.19" width="1.64" height="8.31" fill="#D2D2D2"/>
<rect x="649.75" y="443.37" width="1.84" height="7.13" fill="#EDB55C"/>
<rect x="651.90" y="429.41" width="1.64" height="11.49" fill="#D2D2D2"/>
<rect x="651.80" y="431.06" width="1.84" height="9.84" fill="#EDB55C"/>
<rect x="653.95" y="426.83" width="1.64" height="13.27" fill="#D2D2D2"/>
<rect x="653.85" y="428.74" width="1.84" height="11.36" fill="#EDB55C"/>
<rect x="656.00" y="435.71" width="1.64" height="5.19" fill="#D2D2D2"/>
<rect x="655.90" y="436.41" width="1.84" height="4.49" fill="#EDB55C"/>
<rect x="658.05" y="441.29" width="1.64" height="7.81" fill="#D2D2D2"/>
<rect x="657.95" y="442.38" width="1.84" height="6.72" fill="#EDB55C"/>
<rect x="660.10" y="435.56" width="1.64" height="11.94" fill="#D2D2D2"/>
<rect x="660.00" y="437.27" width="1.84" height="10.23" fill="#EDB55C"/>
<rect x="662.15" y="453.46" width="1.64" height="7.54" fill="#D2D2D2"/>
<rect x="662.05" y="454.52" width="1.84" height="6.48" fill="#EDB55C"/>
<rect x="664.20" y="450.24" width="1.64" height="12.26" fill="#D2D2D2"/>
<rect x="664.10" y="452.00" width="1.84" height="10.50" fill="#EDB55C"/>
<rect x="666.25" y="455.27" width="1.64" height="8.73" fill="#D2D2D2"/>
<rect x="666.15" y="456.51" width="1.84" height="7.49" fill="#EDB55C"/>
<rect x="668.30" y="468.08" width="1.64" height="7.81" fill="#D2D2D2"/>
<rect x="668.20" y="469.18" width="1.84" height="6.72" fill="#EDB55C"/>
<rect x="670.35" y="469.38" width="1.64" height="6.52" fill="#D2D2D2"/>
<rect x="670.25" y="470.28" width="1.84" height="5.62" fill="#EDB55C"/>
<rect x="672.40" y="457.92" width="1.64" height="11.98" fill="#D2D2D2"/>
<rect x="672.30" y="459.64" width="1.84" height="10.26" fill="#EDB55C"/>
<rect x="674.45" y="436.50" width="1.64" height="12.50" fill="#D2D2D2"/>
<rect x="674.35" y="438.30" width="1.84" height="10.70" fill="#EDB55C"/>
<rect x="676.50" y="447.64" width="1.64" height="5.86" fill="#D2D2D2"/>
<rect x="676.40" y="448.45" width="1.84" height="5.05" fill="#EDB55C"/>
<rect x="678.55" y="456.76" width="1.64" height="4.14" fill="#D2D2D2"/>
<rect x="678.45" y="457.31" width="1.84" height="3.59" fill="#EDB55C"/>
<rect x="680.60" y="458.75" width="1.64" height="3.65" fill="#D2D2D2"/>
<rect x="680.50" y="459.22" width="1.84" height="3.18" fill="#EDB55C"/>
<rect x="682.65" y="455.43" width="1.64" height="5.47" fill="#D2D2D2"/>
<rect x="682.55" y="456.18" width="1.84" height="4.72" fill="#EDB55C"/>
<rect x="684.70" y="449.17" width="1.64" height="8.73" fill="#D2D2D2"/>
<rect x="684.60" y="450.41" width="1.84" height="7.49" fill="#EDB55C"/>
<rect x="686.75" y="461.16" width="1.64" height="2.74" fill="#D2D2D2"/>
<rect x="686.65" y="461.50" width="1.84" height="2.40" fill="#EDB55C"/>
<rect x="688.80" y="461.19" width="1.64" height="2.70" fill="#D2D2D2"/>
<rect x="688.70" y="461.53" width="1.84" height="2.37" fill="#EDB55C"/>
<rect x="690.85" y="458.30" width="1.64" height="2.60" fill="#D2D2D2"/>
<rect x="690.75" y="458.61" width="1.84" height="2.29" fill="#EDB55C"/>
<rect x="692.90" y="448.82" width="1.64" height="10.58" fill="#D2D2D2"/>
<rect x="692.80" y="450.33" width="1.84" height="9.07" fill="#EDB55C"/>
<rect x="694.95" y="449.71" width="1.64" height="5.19" fill="#D2D2D2"/>
<rect x="694.85" y="450.41" width="1.84" height="4.49" fill="#EDB55C"/>
<rect x="697.00" y="448.81" width="1.64" height="3.09" fill="#D2D2D2"/>
<rect x="696.90" y="449.20" width="1.84" height="2.70" fill="#EDB55C"/>
<rect x="699.05" y="448.41" width="1.64" height="6.49" fill="#D2D2D2"/>
<rect x="698.95" y="449.31" width="1.84" height="5.59" fill="#EDB55C"/>
<rect x="701.10" y="454.28" width="1.64" height="3.62" fill="#D2D2D2"/>
<rect x="701.00" y="454.75" width="1.84" height="3.15" fill="#EDB55C"/>
<rect x="703.15" y="440.03" width="1.64" height="8.97" fill="#D2D2D2"/>
<rect x="703.05" y="441.30" width="1.84" height="7.70" fill="#EDB55C"/>
<rect x="705.20" y="444.50" width="1.64" height="6.00" fill="#D2D2D2"/>
<rect x="705.10" y="445.33" width="1.84" height="5.17" fill="#EDB55C"/>
<rect x="707.25" y="442.73" width="1.64" height="6.27" fill="#D2D2D2"/>
<rect x="707.15" y="443.59" width="1.84" height="5.41" fill="#EDB55C"/>
<rect x="709.30" y="438.45" width="1.64" height="12.75" fill="#D2D2D2"/>
<rect x="709.20" y="440.29" width="1.84" height="10.91" fill="#EDB55C"/>
<rect x="711.35" y="440.44" width="1.64" height="11.45" fill="#D2D2D2"/>
<rect x="711.25" y="442.09" width="1.84" height="9.81" fill="#EDB55C"/>
<rect x="713.40" y="426.00" width="1.64" height="24.50" fill="#D2D2D2"/>
<rect x="713.30" y="429.60" width="1.84" height="20.90" fill="#EDB55C"/>
<rect x="715.45" y="431.78" width="1.64" height="14.22" fill="#D2D2D2"/>
<rect x="715.35" y="433.84" width="1.84" height="12.16" fill="#EDB55C"/>
<rect x="717.50" y="432.10" width="1.64" height="12.40" fill="#D2D2D2"/>
<rect x="717.40" y="433.88" width="1.84" height="10.62" fill="#EDB55C"/>
<rect x="719.55" y="438.04" width="1.64" height="10.16" fill="#D2D2D2"/>
<rect x="719.45" y="439.49" width="1.84" height="8.71" fill="#EDB55C"/>
<rect x="721.60" y="419.33" width="1.64" height="13.17" fill="#D2D2D2"/>
<rect x="721.50" y="421.23" width="1.84" height="11.27" fill="#EDB55C"/>
<rect x="723.65" y="405.00" width="1.64" height="41.00" fill="#D2D2D2"/>
<rect x="723.55" y="411.07" width="1.84" height="34.93" fill="#EDB55C"/>
<rect x="725.70" y="424.65" width="1.64" height="18.35" fill="#D2D2D2"/>
<rect x="725.60" y="427.33" width="1.84" height="15.67" fill="#EDB55C"/>
<rect x="727.75" y="428.52" width="1.64" height="17.48" fill="#D2D2D2"/>
<rect x="727.65" y="431.07" width="1.84" height="14.93" fill="#EDB55C"/>
<rect x="729.80" y="427.43" width="1.64" height="12.57" fill="#D2D2D2"/>
<rect x="729.70" y="429.24" width="1.84" height="10.76" fill="#EDB55C"/>
<rect x="731.85" y="431.32" width="1.64" height="14.68" fill="#D2D2D2"/>
<rect x="731.75" y="433.45" width="1.84" height="12.55" fill="#EDB55C"/>
<rect x="733.90" y="405.00" width="1.64" height="30.50" fill="#D2D2D2"/>
<rect x="733.80" y="409.50" width="1.84" height="26.00" fill="#EDB55C"/>
<rect x="735.95" y="405.00" width="1.64" height="26.10" fill="#D2D2D2"/>
<rect x="735.85" y="408.84" width="1.84" height="22.26" fill="#EDB55C"/>
<rect x="738.00" y="400.00" width="1.64" height="32.50" fill="#D2D2D2"/>
<rect x="737.90" y="404.80" width="1.84" height="27.70" fill="#EDB55C"/>
<rect x="740.05" y="398.00" width="1.64" height="33.10" fill="#D2D2D2"/>
<rect x="739.95" y="402.89" width="1.84" height="28.21" fill="#EDB55C"/>
<rect x="742.10" y="405.00" width="1.64" height="27.50" fill="#D2D2D2"/>
<rect x="742.00" y="409.05" width="1.84" height="23.45" fill="#EDB55C"/>
<rect x="744.15" y="400.00" width="1.64" height="30.50" fill="#D2D2D2"/>
<rect x="744.05" y="404.50" width="1.84" height="26.00" fill="#EDB55C"/>
<rect x="746.20" y="405.00" width="1.64" height="25.50" fill="#D2D2D2"/>
<rect x="746.10" y="408.75" width="1.84" height="21.75" fill="#EDB55C"/>
<rect x="748.25" y="410.00" width="1.64" height="22.50" fill="#D2D2D2"/>
<rect x="748.15" y="413.30" width="1.84" height="19.20" fill="#EDB55C"/>
<rect x="750.30" y="405.00" width="1.64" height="25.50" fill="#D2D2D2"/>
<rect x="750.20" y="408.75" width="1.84" height="21.75" fill="#EDB55C"/>
<rect x="752.35" y="410.00" width="1.64" height="22.50" fill="#D2D2D2"/>
<rect x="752.25" y="413.30" width="1.84" height="19.20" fill="#EDB55C"/>
<rect x="754.40" y="365.00" width="1.64" height="25.50" fill="#D2D2D2"/>
<rect x="754.30" y="370.00" width="1.84" height="20.50" fill="#C25D5A"/>
<rect x="756.45" y="345.00" width="1.64" height="33.50" fill="#D2D2D2"/>
<rect x="756.35" y="351.60" width="1.84" height="26.90" fill="#C25D5A"/>
<rect x="758.50" y="340.00" width="1.64" height="35.50" fill="#D2D2D2"/>
<rect x="758.40" y="347.00" width="1.84" height="28.50" fill="#C25D5A"/>
<rect x="760.55" y="335.00" width="1.64" height="26.50" fill="#D2D2D2"/>
<rect x="760.45" y="340.20" width="1.84" height="21.30" fill="#C25D5A"/>
<rect x="762.60" y="330.00" width="1.64" height="25.50" fill="#D2D2D2"/>
<rect x="762.50" y="335.00" width="1.84" height="20.50" fill="#C25D5A"/>
<rect x="764.65" y="330.00" width="1.64" height="20.50" fill="#D2D2D2"/>
<rect x="764.55" y="334.00" width="1.84" height="16.50" fill="#C25D5A"/>
<rect x="766.70" y="279.00" width="1.64" height="31.50" fill="#D2D2D2"/>
<rect x="766.60" y="285.20" width="1.84" height="25.30" fill="#C25D5A"/>
<rect x="768.75" y="279.00" width="1.64" height="37.50" fill="#D2D2D2"/>
<rect x="768.65" y="304.90" width="1.84" height="11.60" fill="#C25D5A"/>
<rect x="770.80" y="276.50" width="1.64" height="32.60" fill="#D2D2D2"/>
<rect x="770.70" y="298.97" width="1.84" height="10.13" fill="#C25D5A"/>
<rect x="772.85" y="282.50" width="1.64" height="34.00" fill="#D2D2D2"/>
<rect x="772.75" y="305.95" width="1.84" height="10.55" fill="#C25D5A"/>
<rect x="774.90" y="280.00" width="1.64" height="41.00" fill="#D2D2D2"/>
<rect x="774.80" y="308.35" width="1.84" height="12.65" fill="#C25D5A"/>
<rect x="776.95" y="240.00" width="1.64" height="54.20" fill="#D2D2D2"/>
<rect x="776.85" y="277.59" width="1.84" height="16.61" fill="#C25D5A"/>
<rect x="779.00" y="215.00" width="1.64" height="61.30" fill="#D2D2D2"/>
<rect x="778.90" y="257.56" width="1.84" height="18.74" fill="#C25D5A"/>
<rect x="781.05" y="205.00" width="1.64" height="84.50" fill="#D2D2D2"/>
<rect x="780.95" y="263.80" width="1.84" height="25.70" fill="#C25D5A"/>
<rect x="783.10" y="158.00" width="1.64" height="92.90" fill="#D2D2D2"/>
<rect x="783.00" y="222.68" width="1.84" height="28.22" fill="#C25D5A"/>
<rect x="785.15" y="155.00" width="1.64" height="57.00" fill="#D2D2D2"/>
<rect x="785.05" y="194.55" width="1.84" height="17.45" fill="#C25D5A"/>
<rect x="787.20" y="153.00" width="1.64" height="72.50" fill="#D2D2D2"/>
<rect x="787.10" y="203.40" width="1.84" height="22.10" fill="#C25D5A"/>
<rect x="789.25" y="154.00" width="1.64" height="71.50" fill="#D2D2D2"/>
<rect x="789.15" y="203.70" width="1.84" height="21.80" fill="#C25D5A"/>
<rect x="791.30" y="152.00" width="1.64" height="46.50" fill="#D2D2D2"/>
<rect x="791.20" y="184.20" width="1.84" height="14.30" fill="#C25D5A"/>
<rect x="793.35" y="152.00" width="1.64" height="46.50" fill="#D2D2D2"/>
<rect x="793.25" y="184.20" width="1.84" height="14.30" fill="#C25D5A"/>
<rect x="795.40" y="152.00" width="1.64" height="7.90" fill="#D2D2D2"/>
<rect x="795.30" y="157.18" width="1.84" height="2.72" fill="#C25D5A"/>
<rect x="797.45" y="135.00" width="1.64" height="65.50" fill="#D2D2D2"/>
<rect x="797.35" y="180.50" width="1.84" height="20.00" fill="#C25D5A"/>
<rect x="799.50" y="152.00" width="1.64" height="34.50" fill="#D2D2D2"/>
<rect x="799.40" y="175.80" width="1.84" height="10.70" fill="#C25D5A"/>
<rect x="155.60" y="498.80" width="2.08" height="1.50" fill="#6a6a6a"/>
<rect x="157.65" y="498.20" width="2.08" height="2.10" fill="#6a6a6a"/>
<rect x="159.70" y="498.00" width="2.08" height="2.30" fill="#6a6a6a"/>
<rect x="161.75" y="497.00" width="2.08" height="3.30" fill="#50C286"/>
<rect x="163.80" y="488.50" width="2.08" height="11.80" fill="#50C286"/>
<rect x="165.85" y="487.00" width="2.08" height="13.30" fill="#F2A834"/>
<rect x="167.90" y="484.00" width="2.08" height="16.30" fill="#F2A834"/>
<rect x="169.95" y="474.40" width="2.08" height="25.90" fill="#F2A834"/>
<rect x="172.00" y="465.00" width="2.08" height="35.30" fill="#F2A834"/>
<rect x="174.05" y="459.00" width="2.08" height="41.30" fill="#F2A834"/>
<rect x="176.10" y="410.00" width="2.08" height="90.30" fill="#E62828"/>
<rect x="178.15" y="397.00" width="2.08" height="103.30" fill="#E62828"/>
<rect x="180.20" y="383.00" width="2.08" height="117.30" fill="#E62828"/>
<rect x="182.25" y="360.00" width="2.08" height="140.30" fill="#E62828"/>
<rect x="184.30" y="288.00" width="2.08" height="212.30" fill="#E62828"/>
<rect x="186.35" y="203.00" width="2.08" height="297.30" fill="#E62828"/>
<rect x="188.40" y="119.00" width="2.08" height="381.30" fill="#E62828"/>
<rect x="190.45" y="152.00" width="2.08" height="348.30" fill="#E62828"/>
<rect x="192.50" y="218.00" width="2.08" height="282.30" fill="#E62828"/>
<rect x="194.55" y="302.00" width="2.08" height="198.30" fill="#E62828"/>
<rect x="196.60" y="340.00" width="2.08" height="160.30" fill="#E62828"/>
<rect x="198.65" y="390.00" width="2.08" height="110.30" fill="#E62828"/>
<rect x="200.70" y="402.00" width="2.08" height="98.30" fill="#E62828"/>
<rect x="202.75" y="396.00" width="2.08" height="104.30" fill="#E62828"/>
<rect x="204.80" y="410.00" width="2.08" height="90.30" fill="#E62828"/>
<rect x="206.85" y="446.20" width="2.08" height="54.10" fill="#F2A834"/>
<rect x="208.90" y="458.90" width="2.08" height="41.40" fill="#F2A834"/>
<rect x="210.95" y="455.10" width="2.08" height="45.20" fill="#F2A834"/>
<rect x="213.00" y="456.60" width="2.08" height="43.70" fill="#F2A834"/>
<rect x="215.05" y="464.00" width="2.08" height="36.30" fill="#F2A834"/>
<rect x="217.10" y="470.00" width="2.08" height="30.30" fill="#F2A834"/>
<rect x="219.15" y="483.50" width="2.08" height="16.80" fill="#F2A834"/>
<rect x="221.20" y="488.00" width="2.08" height="12.30" fill="#F2A834"/>
<rect x="223.25" y="489.40" width="2.08" height="10.90" fill="#F2A834"/>
<rect x="225.30" y="492.40" width="2.08" height="7.90" fill="#F2A834"/>
<rect x="227.35" y="493.00" width="2.08" height="7.30" fill="#F2A834"/>
<rect x="229.40" y="493.00" width="2.08" height="7.30" fill="#F2A834"/>
<rect x="231.45" y="494.70" width="2.08" height="5.60" fill="#9FE8C4"/>
<rect x="233.50" y="494.80" width="2.08" height="5.50" fill="#9FE8C4"/>
<rect x="235.55" y="495.40" width="2.08" height="4.90" fill="#9FE8C4"/>
<rect x="237.60" y="494.80" width="2.08" height="5.50" fill="#9FE8C4"/>
<rect x="239.65" y="496.20" width="2.08" height="4.10" fill="#9FE8C4"/>
<rect x="241.70" y="496.20" width="2.08" height="4.10" fill="#9FE8C4"/>
<rect x="243.75" y="496.20" width="2.08" height="4.10" fill="#9FE8C4"/>
<rect x="245.80" y="495.40" width="2.08" height="4.90" fill="#9FE8C4"/>
<rect x="247.85" y="494.80" width="2.08" height="5.50" fill="#9FE8C4"/>
<rect x="249.90" y="496.20" width="2.08" height="4.10" fill="#9FE8C4"/>
<rect x="251.95" y="496.20" width="2.08" height="4.10" fill="#9FE8C4"/>
<rect x="254.00" y="494.80" width="2.08" height="5.50" fill="#9FE8C4"/>
<rect x="256.05" y="493.20" width="2.08" height="7.10" fill="#9FE8C4"/>
<rect x="258.10" y="493.20" width="2.08" height="7.10" fill="#9FE8C4"/>
<rect x="260.15" y="491.80" width="2.08" height="8.50" fill="#9FE8C4"/>
<rect x="262.20" y="483.50" width="2.08" height="16.80" fill="#F2A834"/>
<rect x="264.25" y="486.40" width="2.08" height="13.90" fill="#F2A834"/>
<rect x="266.30" y="486.40" width="2.08" height="13.90" fill="#F2A834"/>
<rect x="268.35" y="488.00" width="2.08" height="12.30" fill="#F2A834"/>
<rect x="270.40" y="477.50" width="2.08" height="22.80" fill="#F2A834"/>
<rect x="272.45" y="473.00" width="2.08" height="27.30" fill="#F2A834"/>
<rect x="274.50" y="473.80" width="2.08" height="26.50" fill="#F2A834"/>
<rect x="276.55" y="470.00" width="2.08" height="30.30" fill="#F2A834"/>
<rect x="278.60" y="467.00" width="2.08" height="33.30" fill="#F2A834"/>
<rect x="280.65" y="462.60" width="2.08" height="37.70" fill="#F2A834"/>
<rect x="282.70" y="477.50" width="2.08" height="22.80" fill="#F2A834"/>
<rect x="284.75" y="483.50" width="2.08" height="16.80" fill="#F2A834"/>
<rect x="286.80" y="480.50" width="2.08" height="19.80" fill="#F2A834"/>
<rect x="288.85" y="479.70" width="2.08" height="20.60" fill="#F2A834"/>
<rect x="290.90" y="479.00" width="2.08" height="21.30" fill="#F2A834"/>
<rect x="292.95" y="465.60" width="2.08" height="34.70" fill="#F2A834"/>
<rect x="295.00" y="468.60" width="2.08" height="31.70" fill="#F2A834"/>
<rect x="297.05" y="469.00" width="2.08" height="31.30" fill="#F2A834"/>
<rect x="299.10" y="473.00" width="2.08" height="27.30" fill="#F2A834"/>
<rect x="301.15" y="474.50" width="2.08" height="25.80" fill="#F2A834"/>
<rect x="303.20" y="472.00" width="2.08" height="28.30" fill="#F2A834"/>
<rect x="305.25" y="470.00" width="2.08" height="30.30" fill="#F2A834"/>
<rect x="307.30" y="456.60" width="2.08" height="43.70" fill="#F2A834"/>
<rect x="309.35" y="452.00" width="2.08" height="48.30" fill="#F2A834"/>
<rect x="311.40" y="434.00" width="2.08" height="66.30" fill="#F2A834"/>
<rect x="313.45" y="416.00" width="2.08" height="84.30" fill="#F2A834"/>
<rect x="315.50" y="408.00" width="2.08" height="92.30" fill="#F2A834"/>
<rect x="317.55" y="416.00" width="2.08" height="84.30" fill="#F2A834"/>
<rect x="319.60" y="430.00" width="2.08" height="70.30" fill="#F2A834"/>
<rect x="321.65" y="450.00" width="2.08" height="50.30" fill="#F2A834"/>
<rect x="323.70" y="430.00" width="2.08" height="70.30" fill="#F2A834"/>
<rect x="325.75" y="437.00" width="2.08" height="63.30" fill="#F2A834"/>
<rect x="327.80" y="422.00" width="2.08" height="78.30" fill="#F2A834"/>
<rect x="329.85" y="440.00" width="2.08" height="60.30" fill="#F2A834"/>
<rect x="331.90" y="430.00" width="2.08" height="70.30" fill="#F2A834"/>
<rect x="333.95" y="416.00" width="2.08" height="84.30" fill="#F2A834"/>
<rect x="336.00" y="416.00" width="2.08" height="84.30" fill="#F2A834"/>
<rect x="338.05" y="418.00" width="2.08" height="82.30" fill="#F2A834"/>
<rect x="340.10" y="410.00" width="2.08" height="90.30" fill="#F2A834"/>
<rect x="342.15" y="412.00" width="2.08" height="88.30" fill="#F2A834"/>
<rect x="344.20" y="413.00" width="2.08" height="87.30" fill="#F2A834"/>
<rect x="346.25" y="418.00" width="2.08" height="82.30" fill="#F2A834"/>
<rect x="348.30" y="418.00" width="2.08" height="82.30" fill="#F2A834"/>
<rect x="350.35" y="416.00" width="2.08" height="84.30" fill="#F2A834"/>
<rect x="352.40" y="376.00" width="2.08" height="124.30" fill="#E62828"/>
<rect x="354.45" y="377.70" width="2.08" height="122.60" fill="#E62828"/>
<rect x="356.50" y="340.00" width="2.08" height="160.30" fill="#E62828"/>
<rect x="358.55" y="332.00" width="2.08" height="168.30" fill="#E62828"/>
<rect x="360.60" y="322.00" width="2.08" height="178.30" fill="#E62828"/>
<rect x="362.65" y="310.00" width="2.08" height="190.30" fill="#E62828"/>
<rect x="364.70" y="280.00" width="2.08" height="220.30" fill="#E62828"/>
<rect x="366.75" y="334.00" width="2.08" height="166.30" fill="#E62828"/>
<rect x="368.80" y="397.00" width="2.08" height="103.30" fill="#F2A834"/>
<rect x="370.85" y="395.00" width="2.08" height="105.30" fill="#F2A834"/>
<rect x="372.90" y="395.00" width="2.08" height="105.30" fill="#F2A834"/>
<rect x="374.95" y="390.00" width="2.08" height="110.30" fill="#F2A834"/>
<rect x="377.00" y="389.00" width="2.08" height="111.30" fill="#F2A834"/>
<rect x="379.05" y="389.00" width="2.08" height="111.30" fill="#F2A834"/>
<rect x="381.10" y="401.00" width="2.08" height="99.30" fill="#F2A834"/>
<rect x="383.15" y="401.00" width="2.08" height="99.30" fill="#F2A834"/>
<rect x="385.20" y="404.00" width="2.08" height="96.30" fill="#F2A834"/>
<rect x="387.25" y="404.00" width="2.08" height="96.30" fill="#F2A834"/>
<rect x="389.30" y="407.00" width="2.08" height="93.30" fill="#F2A834"/>
<rect x="391.35" y="407.00" width="2.08" height="93.30" fill="#F2A834"/>
<rect x="393.40" y="413.00" width="2.08" height="87.30" fill="#F2A834"/>
<rect x="395.45" y="415.00" width="2.08" height="85.30" fill="#F2A834"/>
<rect x="397.50" y="425.00" width="2.08" height="75.30" fill="#F2A834"/>
<rect x="399.55" y="440.00" width="2.08" height="60.30" fill="#F2A834"/>
<rect x="401.60" y="440.00" width="2.08" height="60.30" fill="#F2A834"/>
<rect x="403.65" y="446.00" width="2.08" height="54.30" fill="#F2A834"/>
<rect x="405.70" y="450.00" width="2.08" height="50.30" fill="#F2A834"/>
<rect x="407.75" y="448.60" width="2.08" height="51.70" fill="#F2A834"/>
<rect x="409.80" y="454.50" width="2.08" height="45.80" fill="#F2A834"/>
<rect x="411.85" y="442.60" width="2.08" height="57.70" fill="#F2A834"/>
<rect x="413.90" y="463.50" width="2.08" height="36.80" fill="#F2A834"/>
<rect x="415.95" y="469.40" width="2.08" height="30.90" fill="#F2A834"/>
<rect x="418.00" y="457.50" width="2.08" height="42.80" fill="#F2A834"/>
<rect x="420.05" y="453.00" width="2.08" height="47.30" fill="#F2A834"/>
<rect x="422.10" y="432.20" width="2.08" height="68.10" fill="#F2A834"/>
<rect x="424.15" y="431.40" width="2.08" height="68.90" fill="#F2A834"/>
<rect x="426.20" y="450.00" width="2.08" height="50.30" fill="#F2A834"/>
<rect x="428.25" y="451.50" width="2.08" height="48.80" fill="#F2A834"/>
<rect x="430.30" y="441.10" width="2.08" height="59.20" fill="#F2A834"/>
<rect x="432.35" y="439.60" width="2.08" height="60.70" fill="#F2A834"/>
<rect x="434.40" y="420.20" width="2.08" height="80.10" fill="#F2A834"/>
<rect x="436.45" y="420.20" width="2.08" height="80.10" fill="#F2A834"/>
<rect x="438.50" y="451.50" width="2.08" height="48.80" fill="#F2A834"/>
<rect x="440.55" y="451.50" width="2.08" height="48.80" fill="#F2A834"/>
<rect x="442.60" y="457.50" width="2.08" height="42.80" fill="#F2A834"/>
<rect x="444.65" y="451.50" width="2.08" height="48.80" fill="#F2A834"/>
<rect x="446.70" y="454.50" width="2.08" height="45.80" fill="#F2A834"/>
<rect x="448.75" y="460.50" width="2.08" height="39.80" fill="#F2A834"/>
<rect x="450.80" y="466.40" width="2.08" height="33.90" fill="#F2A834"/>
<rect x="452.85" y="463.50" width="2.08" height="36.80" fill="#F2A834"/>
<rect x="454.90" y="463.50" width="2.08" height="36.80" fill="#F2A834"/>
<rect x="456.95" y="469.40" width="2.08" height="30.90" fill="#F2A834"/>
<rect x="459.00" y="469.40" width="2.08" height="30.90" fill="#F2A834"/>
<rect x="461.05" y="463.50" width="2.08" height="36.80" fill="#F2A834"/>
<rect x="463.10" y="472.40" width="2.08" height="27.90" fill="#F2A834"/>
<rect x="465.15" y="475.40" width="2.08" height="24.90" fill="#F2A834"/>
<rect x="467.20" y="478.00" width="2.08" height="22.30" fill="#F2A834"/>
<rect x="469.25" y="478.00" width="2.08" height="22.30" fill="#F2A834"/>
<rect x="471.30" y="475.40" width="2.08" height="24.90" fill="#F2A834"/>
<rect x="473.35" y="472.00" width="2.08" height="28.30" fill="#F2A834"/>
<rect x="475.40" y="478.00" width="2.08" height="22.30" fill="#F2A834"/>
<rect x="477.45" y="478.50" width="2.08" height="21.80" fill="#50C286"/>
<rect x="479.50" y="479.40" width="2.08" height="20.90" fill="#50C286"/>
<rect x="481.55" y="479.40" width="2.08" height="20.90" fill="#50C286"/>
<rect x="483.60" y="484.70" width="2.08" height="15.60" fill="#50C286"/>
<rect x="485.65" y="486.50" width="2.08" height="13.80" fill="#50C286"/>
<rect x="487.70" y="481.10" width="2.08" height="19.20" fill="#50C286"/>
<rect x="489.75" y="486.50" width="2.08" height="13.80" fill="#50C286"/>
<rect x="491.80" y="482.00" width="2.08" height="18.30" fill="#50C286"/>
<rect x="493.85" y="488.30" width="2.08" height="12.00" fill="#50C286"/>
<rect x="495.90" y="490.00" width="2.08" height="10.30" fill="#50C286"/>
<rect x="497.95" y="491.90" width="2.08" height="8.40" fill="#50C286"/>
<rect x="500.00" y="493.70" width="2.08" height="6.60" fill="#50C286"/>
<rect x="502.05" y="494.60" width="2.08" height="5.70" fill="#50C286"/>
<rect x="504.10" y="495.50" width="2.08" height="4.80" fill="#50C286"/>
<rect x="506.15" y="495.50" width="2.08" height="4.80" fill="#50C286"/>
<rect x="508.20" y="495.50" width="2.08" height="4.80" fill="#50C286"/>
<rect x="510.25" y="494.60" width="2.08" height="5.70" fill="#50C286"/>
<rect x="512.30" y="493.70" width="2.08" height="6.60" fill="#50C286"/>
<rect x="514.35" y="494.60" width="2.08" height="5.70" fill="#50C286"/>
<rect x="516.40" y="493.70" width="2.08" height="6.60" fill="#50C286"/>
<rect x="518.45" y="494.60" width="2.08" height="5.70" fill="#50C286"/>
<rect x="520.50" y="495.50" width="2.08" height="4.80" fill="#50C286"/>
<rect x="522.55" y="495.80" width="2.08" height="4.50" fill="#50C286"/>
<rect x="524.60" y="494.60" width="2.08" height="5.70" fill="#50C286"/>
<rect x="526.65" y="492.60" width="2.08" height="7.70" fill="#50C286"/>
<rect x="528.70" y="491.60" width="2.08" height="8.70" fill="#50C286"/>
<rect x="530.75" y="492.60" width="2.08" height="7.70" fill="#50C286"/>
<rect x="532.80" y="491.60" width="2.08" height="8.70" fill="#50C286"/>
<rect x="534.85" y="488.50" width="2.08" height="11.80" fill="#50C286"/>
<rect x="536.90" y="487.40" width="2.08" height="12.90" fill="#50C286"/>
<rect x="538.95" y="486.40" width="2.08" height="13.90" fill="#50C286"/>
<rect x="541.00" y="484.30" width="2.08" height="16.00" fill="#50C286"/>
<rect x="543.05" y="482.20" width="2.08" height="18.10" fill="#50C286"/>
<rect x="545.10" y="483.00" width="2.08" height="17.30" fill="#50C286"/>
<rect x="547.15" y="482.00" width="2.08" height="18.30" fill="#50C286"/>
<rect x="549.20" y="466.00" width="2.08" height="34.30" fill="#F2A834"/>
<rect x="551.25" y="458.20" width="2.08" height="42.10" fill="#F2A834"/>
<rect x="553.30" y="458.50" width="2.08" height="41.80" fill="#F2A834"/>
<rect x="555.35" y="458.00" width="2.08" height="42.30" fill="#F2A834"/>
<rect x="557.40" y="462.00" width="2.08" height="38.30" fill="#F2A834"/>
<rect x="559.45" y="463.50" width="2.08" height="36.80" fill="#F2A834"/>
<rect x="561.50" y="467.60" width="2.08" height="32.70" fill="#F2A834"/>
<rect x="563.55" y="451.00" width="2.08" height="49.30" fill="#F2A834"/>
<rect x="565.60" y="445.70" width="2.08" height="54.60" fill="#F2A834"/>
<rect x="567.65" y="445.60" width="2.08" height="54.70" fill="#F2A834"/>
<rect x="569.70" y="445.60" width="2.08" height="54.70" fill="#F2A834"/>
<rect x="571.75" y="455.00" width="2.08" height="45.30" fill="#F2A834"/>
<rect x="573.80" y="461.00" width="2.08" height="39.30" fill="#F2A834"/>
<rect x="575.85" y="465.50" width="2.08" height="34.80" fill="#F2A834"/>
<rect x="577.90" y="467.00" width="2.08" height="33.30" fill="#F2A834"/>
<rect x="579.95" y="456.00" width="2.08" height="44.30" fill="#F2A834"/>
<rect x="582.00" y="461.20" width="2.08" height="39.10" fill="#F2A834"/>
<rect x="584.05" y="454.50" width="2.08" height="45.80" fill="#F2A834"/>
<rect x="586.10" y="448.60" width="2.08" height="51.70" fill="#F2A834"/>
<rect x="588.15" y="460.50" width="2.08" height="39.80" fill="#F2A834"/>
<rect x="590.20" y="469.40" width="2.08" height="30.90" fill="#F2A834"/>
<rect x="592.25" y="471.00" width="2.08" height="29.30" fill="#F2A834"/>
<rect x="594.30" y="472.40" width="2.08" height="27.90" fill="#F2A834"/>
<rect x="596.35" y="473.90" width="2.08" height="26.40" fill="#F2A834"/>
<rect x="598.40" y="469.40" width="2.08" height="30.90" fill="#F2A834"/>
<rect x="600.45" y="465.70" width="2.08" height="34.60" fill="#F2A834"/>
<rect x="602.50" y="463.50" width="2.08" height="36.80" fill="#F2A834"/>
<rect x="604.55" y="457.50" width="2.08" height="42.80" fill="#F2A834"/>
<rect x="606.60" y="454.50" width="2.08" height="45.80" fill="#F2A834"/>
<rect x="608.65" y="447.00" width="2.08" height="53.30" fill="#F2A834"/>
<rect x="610.70" y="454.50" width="2.08" height="45.80" fill="#F2A834"/>
<rect x="612.75" y="463.50" width="2.08" height="36.80" fill="#F2A834"/>
<rect x="614.80" y="463.50" width="2.08" height="36.80" fill="#F2A834"/>
<rect x="616.85" y="462.00" width="2.08" height="38.30" fill="#F2A834"/>
<rect x="618.90" y="466.40" width="2.08" height="33.90" fill="#F2A834"/>
<rect x="620.95" y="454.50" width="2.08" height="45.80" fill="#F2A834"/>
<rect x="623.00" y="447.80" width="2.08" height="52.50" fill="#F2A834"/>
<rect x="625.05" y="447.00" width="2.08" height="53.30" fill="#F2A834"/>
<rect x="627.10" y="447.80" width="2.08" height="52.50" fill="#F2A834"/>
<rect x="629.15" y="447.00" width="2.08" height="53.30" fill="#F2A834"/>
<rect x="631.20" y="454.50" width="2.08" height="45.80" fill="#F2A834"/>
<rect x="633.25" y="455.00" width="2.08" height="45.30" fill="#F2A834"/>
<rect x="635.30" y="450.00" width="2.08" height="50.30" fill="#F2A834"/>
<rect x="637.35" y="445.60" width="2.08" height="54.70" fill="#F2A834"/>
<rect x="639.40" y="445.60" width="2.08" height="54.70" fill="#F2A834"/>
<rect x="641.45" y="445.60" width="2.08" height="54.70" fill="#F2A834"/>
<rect x="643.50" y="445.60" width="2.08" height="54.70" fill="#F2A834"/>
<rect x="645.55" y="447.00" width="2.08" height="53.30" fill="#F2A834"/>
<rect x="647.60" y="457.50" width="2.08" height="42.80" fill="#F2A834"/>
<rect x="649.65" y="450.00" width="2.08" height="50.30" fill="#F2A834"/>
<rect x="651.70" y="440.40" width="2.08" height="59.90" fill="#F2A834"/>
<rect x="653.75" y="439.60" width="2.08" height="60.70" fill="#F2A834"/>
<rect x="655.80" y="440.40" width="2.08" height="59.90" fill="#F2A834"/>
<rect x="657.85" y="448.60" width="2.08" height="51.70" fill="#F2A834"/>
<rect x="659.90" y="447.00" width="2.08" height="53.30" fill="#F2A834"/>
<rect x="661.95" y="460.50" width="2.08" height="39.80" fill="#F2A834"/>
<rect x="664.00" y="462.00" width="2.08" height="38.30" fill="#F2A834"/>
<rect x="666.05" y="463.50" width="2.08" height="36.80" fill="#F2A834"/>
<rect x="668.10" y="475.40" width="2.08" height="24.90" fill="#F2A834"/>
<rect x="670.15" y="475.40" width="2.08" height="24.90" fill="#F2A834"/>
<rect x="672.20" y="469.40" width="2.08" height="30.90" fill="#F2A834"/>
<rect x="674.25" y="448.50" width="2.08" height="51.80" fill="#F2A834"/>
<rect x="676.30" y="453.00" width="2.08" height="47.30" fill="#F2A834"/>
<rect x="678.35" y="460.40" width="2.08" height="39.90" fill="#F2A834"/>
<rect x="680.40" y="461.90" width="2.08" height="38.40" fill="#F2A834"/>
<rect x="682.45" y="460.40" width="2.08" height="39.90" fill="#F2A834"/>
<rect x="684.50" y="457.40" width="2.08" height="42.90" fill="#F2A834"/>
<rect x="686.55" y="463.40" width="2.08" height="36.90" fill="#F2A834"/>
<rect x="688.60" y="463.40" width="2.08" height="36.90" fill="#F2A834"/>
<rect x="690.65" y="460.40" width="2.08" height="39.90" fill="#F2A834"/>
<rect x="692.70" y="458.90" width="2.08" height="41.40" fill="#F2A834"/>
<rect x="694.75" y="454.40" width="2.08" height="45.90" fill="#F2A834"/>
<rect x="696.80" y="451.40" width="2.08" height="48.90" fill="#F2A834"/>
<rect x="698.85" y="454.40" width="2.08" height="45.90" fill="#F2A834"/>
<rect x="700.90" y="457.40" width="2.08" height="42.90" fill="#F2A834"/>
<rect x="702.95" y="448.50" width="2.08" height="51.80" fill="#F2A834"/>
<rect x="705.00" y="450.00" width="2.08" height="50.30" fill="#F2A834"/>
<rect x="707.05" y="448.50" width="2.08" height="51.80" fill="#F2A834"/>
<rect x="709.10" y="450.70" width="2.08" height="49.60" fill="#F2A834"/>
<rect x="711.15" y="451.40" width="2.08" height="48.90" fill="#F2A834"/>
<rect x="713.20" y="450.00" width="2.08" height="50.30" fill="#F2A834"/>
<rect x="715.25" y="445.50" width="2.08" height="54.80" fill="#F2A834"/>
<rect x="717.30" y="444.00" width="2.08" height="56.30" fill="#F2A834"/>
<rect x="719.35" y="447.70" width="2.08" height="52.60" fill="#F2A834"/>
<rect x="721.40" y="432.00" width="2.08" height="68.30" fill="#F2A834"/>
<rect x="723.45" y="445.50" width="2.08" height="54.80" fill="#F2A834"/>
<rect x="725.50" y="442.50" width="2.08" height="57.80" fill="#F2A834"/>
<rect x="727.55" y="445.50" width="2.08" height="54.80" fill="#F2A834"/>
<rect x="729.60" y="439.50" width="2.08" height="60.80" fill="#F2A834"/>
<rect x="731.65" y="445.50" width="2.08" height="54.80" fill="#F2A834"/>
<rect x="733.70" y="435.00" width="2.08" height="65.30" fill="#F2A834"/>
<rect x="735.75" y="430.60" width="2.08" height="69.70" fill="#F2A834"/>
<rect x="737.80" y="432.00" width="2.08" height="68.30" fill="#F2A834"/>
<rect x="739.85" y="430.60" width="2.08" height="69.70" fill="#F2A834"/>
<rect x="741.90" y="432.00" width="2.08" height="68.30" fill="#F2A834"/>
<rect x="743.95" y="430.00" width="2.08" height="70.30" fill="#F2A834"/>
<rect x="746.00" y="430.00" width="2.08" height="70.30" fill="#F2A834"/>
<rect x="748.05" y="432.00" width="2.08" height="68.30" fill="#F2A834"/>
<rect x="750.10" y="430.00" width="2.08" height="70.30" fill="#F2A834"/>
<rect x="752.15" y="432.00" width="2.08" height="68.30" fill="#F2A834"/>
<rect x="754.20" y="390.00" width="2.08" height="110.30" fill="#E62828"/>
<rect x="756.25" y="378.00" width="2.08" height="122.30" fill="#E62828"/>
<rect x="758.30" y="375.00" width="2.08" height="125.30" fill="#E62828"/>
<rect x="760.35" y="361.00" width="2.08" height="139.30" fill="#E62828"/>
<rect x="762.40" y="355.00" width="2.08" height="145.30" fill="#E62828"/>
<rect x="764.45" y="350.00" width="2.08" height="150.30" fill="#E62828"/>
<rect x="766.50" y="310.00" width="2.08" height="190.30" fill="#E62828"/>
<rect x="768.55" y="316.00" width="2.08" height="184.30" fill="#E62828"/>
<rect x="770.60" y="308.60" width="2.08" height="191.70" fill="#E62828"/>
<rect x="772.65" y="316.00" width="2.08" height="184.30" fill="#E62828"/>
<rect x="774.70" y="320.50" width="2.08" height="179.80" fill="#E62828"/>
<rect x="776.75" y="293.70" width="2.08" height="206.60" fill="#E62828"/>
<rect x="778.80" y="275.80" width="2.08" height="224.50" fill="#E62828"/>
<rect x="780.85" y="289.00" width="2.08" height="211.30" fill="#E62828"/>
<rect x="782.90" y="250.40" width="2.08" height="249.90" fill="#E62828"/>
<rect x="784.95" y="211.50" width="2.08" height="288.80" fill="#E62828"/>
<rect x="787.00" y="225.00" width="2.08" height="275.30" fill="#E62828"/>
<rect x="789.05" y="225.00" width="2.08" height="275.30" fill="#E62828"/>
<rect x="791.10" y="198.00" width="2.08" height="302.30" fill="#E62828"/>
<rect x="793.15" y="198.00" width="2.08" height="302.30" fill="#E62828"/>
<rect x="795.20" y="159.40" width="2.08" height="340.90" fill="#E62828"/>
<rect x="797.25" y="200.00" width="2.08" height="300.30" fill="#E62828"/>
<rect x="799.30" y="186.00" width="2.08" height="314.30" fill="#E62828"/>
<path d="M157.65 498.80V500.30M159.70 498.20V500.30M161.75 498.00V500.30" stroke="#999" stroke-width="0.65" fill="none"/>
<path d="M163.80 497.00V500.30M165.85 488.50V500.30M477.45 478.50V500.30M479.50 479.40V500.30M481.55 479.40V500.30M483.60 484.70V500.30M485.65 486.50V500.30M487.70 486.50V500.30M489.75 486.50V500.30M491.80 486.50V500.30M493.85 488.30V500.30M495.90 490.00V500.30M497.95 491.90V500.30M500.00 493.70V500.30M502.05 494.60V500.30M504.10 495.50V500.30M506.15 495.50V500.30M508.20 495.50V500.30M510.25 495.50V500.30M512.30 494.60V500.30M514.35 494.60V500.30M516.40 494.60V500.30M518.45 494.60V500.30M520.50 495.50V500.30M522.55 495.80V500.30M524.60 495.80V500.30M526.65 494.60V500.30M528.70 492.60V500.30M530.75 492.60V500.30M532.80 492.60V500.30M534.85 491.60V500.30M536.90 488.50V500.30M538.95 487.40V500.30M541.00 486.40V500.30M543.05 484.30V500.30M545.10 483.00V500.30M547.15 483.00V500.30M549.20 482.00V500.30" stroke="#9BE6BE" stroke-width="0.65" fill="none"/>
<path d="M167.90 487.00V500.30M169.95 484.00V500.30M172.00 474.40V500.30M174.05 465.00V500.30M176.10 459.00V500.30M206.85 446.20V500.30M208.90 458.90V500.30M210.95 458.90V500.30M213.00 456.60V500.30M215.05 464.00V500.30M217.10 470.00V500.30M219.15 483.50V500.30M221.20 488.00V500.30M223.25 489.40V500.30M225.30 492.40V500.30M227.35 493.00V500.30M229.40 493.00V500.30M264.25 486.40V500.30M266.30 486.40V500.30M268.35 488.00V500.30M270.40 488.00V500.30M272.45 477.50V500.30M274.50 473.80V500.30M276.55 473.80V500.30M278.60 470.00V500.30M280.65 467.00V500.30M282.70 477.50V500.30M284.75 483.50V500.30M286.80 483.50V500.30M288.85 480.50V500.30M290.90 479.70V500.30M292.95 479.00V500.30M295.00 468.60V500.30M297.05 469.00V500.30M299.10 473.00V500.30M301.15 474.50V500.30M303.20 474.50V500.30M305.25 472.00V500.30M307.30 470.00V500.30M309.35 456.60V500.30M311.40 452.00V500.30M313.45 434.00V500.30M315.50 416.00V500.30M317.55 416.00V500.30M319.60 430.00V500.30M321.65 450.00V500.30M323.70 450.00V500.30M325.75 437.00V500.30M327.80 437.00V500.30M329.85 440.00V500.30M331.90 440.00V500.30M333.95 430.00V500.30M336.00 416.00V500.30M338.05 418.00V500.30M340.10 418.00V500.30M342.15 412.00V500.30M344.20 413.00V500.30M346.25 418.00V500.30M348.30 418.00V500.30M350.35 418.00V500.30M352.40 416.00V500.30M368.80 397.00V500.30M370.85 397.00V500.30M372.90 395.00V500.30M374.95 395.00V500.30M377.00 390.00V500.30M379.05 389.00V500.30M381.10 401.00V500.30M383.15 401.00V500.30M385.20 404.00V500.30M387.25 404.00V500.30M389.30 407.00V500.30M391.35 407.00V500.30M393.40 413.00V500.30M395.45 415.00V500.30M397.50 425.00V500.30M399.55 440.00V500.30M401.60 440.00V500.30M403.65 446.00V500.30M405.70 450.00V500.30M407.75 450.00V500.30M409.80 454.50V500.30M411.85 454.50V500.30M413.90 463.50V500.30M415.95 469.40V500.30M418.00 469.40V500.30M420.05 457.50V500.30M422.10 453.00V500.30M424.15 432.20V500.30M426.20 450.00V500.30M428.25 451.50V500.30M430.30 451.50V500.30M432.35 441.10V500.30M434.40 439.60V500.30M436.45 420.20V500.30M438.50 451.50V500.30M440.55 451.50V500.30M442.60 457.50V500.30M444.65 457.50V500.30M446.70 454.50V500.30M448.75 460.50V500.30M450.80 466.40V500.30M452.85 466.40V500.30M454.90 463.50V500.30M456.95 469.40V500.30M459.00 469.40V500.30M461.05 469.40V500.30M463.10 472.40V500.30M465.15 475.40V500.30M467.20 478.00V500.30M469.25 478.00V500.30M471.30 478.00V500.30M473.35 475.40V500.30M475.40 478.00V500.30M551.25 466.00V500.30M553.30 458.50V500.30M555.35 458.50V500.30M557.40 462.00V500.30M559.45 463.50V500.30M561.50 467.60V500.30M563.55 467.60V500.30M565.60 451.00V500.30M567.65 445.70V500.30M569.70 445.60V500.30M571.75 455.00V500.30M573.80 461.00V500.30M575.85 465.50V500.30M577.90 467.00V500.30M579.95 467.00V500.30M582.00 461.20V500.30M584.05 461.20V500.30M586.10 454.50V500.30M588.15 460.50V500.30M590.20 469.40V500.30M592.25 471.00V500.30M594.30 472.40V500.30M596.35 473.90V500.30M598.40 473.90V500.30M600.45 469.40V500.30M602.50 465.70V500.30M604.55 463.50V500.30M606.60 457.50V500.30M608.65 454.50V500.30M610.70 454.50V500.30M612.75 463.50V500.30M614.80 463.50V500.30M616.85 463.50V500.30M618.90 466.40V500.30M620.95 466.40V500.30M623.00 454.50V500.30M625.05 447.80V500.30M627.10 447.80V500.30M629.15 447.80V500.30M631.20 454.50V500.30M633.25 455.00V500.30M635.30 455.00V500.30M637.35 450.00V500.30M639.40 445.60V500.30M641.45 445.60V500.30M643.50 445.60V500.30M645.55 447.00V500.30M647.60 457.50V500.30M649.65 457.50V500.30M651.70 450.00V500.30M653.75 440.40V500.30M655.80 440.40V500.30M657.85 448.60V500.30M659.90 448.60V500.30M661.95 460.50V500.30M664.00 462.00V500.30M666.05 463.50V500.30M668.10 475.40V500.30M670.15 475.40V500.30M672.20 475.40V500.30M674.25 469.40V500.30M676.30 453.00V500.30M678.35 460.40V500.30M680.40 461.90V500.30M682.45 461.90V500.30M684.50 460.40V500.30M686.55 463.40V500.30M688.60 463.40V500.30M690.65 463.40V500.30M692.70 460.40V500.30M694.75 458.90V500.30M696.80 454.40V500.30M698.85 454.40V500.30M700.90 457.40V500.30M702.95 457.40V500.30M705.00 450.00V500.30M707.05 450.00V500.30M709.10 450.70V500.30M711.15 451.40V500.30M713.20 451.40V500.30M715.25 450.00V500.30M717.30 445.50V500.30M719.35 447.70V500.30M721.40 447.70V500.30M723.45 445.50V500.30M725.50 445.50V500.30M727.55 445.50V500.30M729.60 445.50V500.30M731.65 445.50V500.30M733.70 445.50V500.30M735.75 435.00V500.30M737.80 432.00V500.30M739.85 432.00V500.30M741.90 432.00V500.30M743.95 432.00V500.30M746.00 430.00V500.30M748.05 432.00V500.30M750.10 432.00V500.30M752.15 432.00V500.30M754.20 432.00V500.30" stroke="#FFCB5E" stroke-width="0.65" fill="none"/>
<path d="M178.15 410.00V500.30M180.20 397.00V500.30M182.25 383.00V500.30M184.30 360.00V500.30M186.35 288.00V500.30M188.40 203.00V500.30M190.45 152.00V500.30M192.50 218.00V500.30M194.55 302.00V500.30M196.60 340.00V500.30M198.65 390.00V500.30M200.70 402.00V500.30M202.75 402.00V500.30M204.80 410.00V500.30M354.45 377.70V500.30M356.50 377.70V500.30M358.55 340.00V500.30M360.60 332.00V500.30M362.65 322.00V500.30M364.70 310.00V500.30M366.75 334.00V500.30M756.25 390.00V500.30M758.30 378.00V500.30M760.35 375.00V500.30M762.40 361.00V500.30M764.45 355.00V500.30M766.50 350.00V500.30M768.55 316.00V500.30M770.60 316.00V500.30M772.65 316.00V500.30M774.70 320.50V500.30M776.75 320.50V500.30M778.80 293.70V500.30M780.85 289.00V500.30M782.90 289.00V500.30M784.95 250.40V500.30M787.00 225.00V500.30M789.05 225.00V500.30M791.10 225.00V500.30M793.15 198.00V500.30M795.20 198.00V500.30M797.25 200.00V500.30M799.30 200.00V500.30" stroke="#FF6B6B" stroke-width="0.65" fill="none"/>
<path d="M231.45 494.70V500.30M233.50 494.80V500.30M235.55 495.40V500.30M237.60 495.40V500.30M239.65 496.20V500.30M241.70 496.20V500.30M243.75 496.20V500.30M245.80 496.20V500.30M247.85 495.40V500.30M249.90 496.20V500.30M251.95 496.20V500.30M254.00 496.20V500.30M256.05 494.80V500.30M258.10 493.20V500.30M260.15 493.20V500.30M262.20 491.80V500.30" stroke="#E0FAEE" stroke-width="0.65" fill="none"/>
</g>
<path d="M160.72 499.35V498.00M162.78 498.20V497.00M164.82 489.97V488.50M166.88 490.30V487.00M168.92 486.88V484.00M170.97 478.12V474.40M173.02 467.04V465.00M175.07 463.44V459.00M177.12 414.80V410.00M179.17 401.20V397.00M181.22 387.80V383.00M183.27 366.90V360.00M185.32 298.20V288.00M187.38 215.90V203.00M189.42 131.30V119.00M191.47 163.70V152.00M193.52 230.60V218.00M195.57 312.80V302.00M197.62 343.60V340.00M199.67 392.40V390.00M201.72 407.10V402.00M203.77 402.90V396.00M205.82 414.50V410.00M207.88 451.57V446.20M209.92 468.08V458.90M211.97 461.13V455.10M214.02 460.17V456.60M216.07 469.79V464.00M218.12 471.80V470.00M220.17 486.20V483.50M222.22 490.04V488.00M224.27 491.62V489.40M226.32 495.07V492.40M228.38 495.85V493.00M230.42 494.74V493.00M232.47 496.29V494.70M234.52 495.94V494.80M236.57 496.30V495.40M238.62 496.42V494.80M240.67 497.34V496.20M242.72 497.16V496.20M244.77 497.34V496.20M246.82 497.20V495.40M248.88 496.24V494.80M250.92 497.76V496.20M252.97 497.55V496.20M255.02 496.42V494.80M257.07 494.79V493.20M259.12 495.24V493.20M261.17 493.84V491.80M263.22 487.97V483.50M265.27 492.22V486.40M267.32 492.43V486.40M269.38 494.51V488.00M271.42 481.97V477.50M273.47 476.12V473.00M275.52 482.98V473.80M277.57 478.04V470.00M279.62 474.35V467.00M281.67 471.48V462.60M283.73 483.86V477.50M285.77 489.35V483.50M287.82 484.97V480.50M289.88 485.73V479.70M291.92 484.37V479.00M293.98 468.78V465.60M296.02 479.79V468.60M298.07 477.64V469.00M300.12 481.94V473.00M302.17 482.99V474.50M304.23 481.09V472.00M306.27 480.50V470.00M308.32 460.08V456.60M310.38 461.60V452.00M312.42 444.20V434.00M314.48 423.92V416.00M316.52 438.60V408.00M318.57 439.79V416.00M320.62 448.30V430.00M322.67 464.40V450.00M324.72 439.90V430.00M326.77 450.11V437.00M328.82 427.25V422.00M330.88 450.65V440.00M332.92 439.21V430.00M334.97 441.26V416.00M337.02 439.04V416.00M339.07 433.45V418.00M341.12 424.61V410.00M343.17 428.32V412.00M345.22 426.05V413.00M347.27 423.40V418.00M349.32 423.40V418.00M351.38 420.89V416.00M353.42 396.46V376.00M355.47 401.01V377.70M357.52 356.08V340.00M359.57 356.30V332.00M361.62 342.76V322.00M363.67 327.16V310.00M365.72 300.91V280.00M367.77 348.55V334.00M369.82 418.00V397.00M371.88 417.80V395.00M373.92 417.68V395.00M375.97 411.18V390.00M378.02 413.96V389.00M380.07 402.89V389.00M382.12 408.92V401.00M384.17 409.40V401.00M386.22 426.20V404.00M388.27 418.40V404.00M390.32 432.68V407.00M392.38 430.10V407.00M394.42 424.55V413.00M396.47 425.50V415.00M398.52 434.00V425.00M400.57 448.46V440.00M402.62 448.46V440.00M404.67 452.30V446.00M406.72 457.35V450.00M408.77 451.96V448.60M410.82 462.09V454.50M412.88 448.33V442.60M414.92 467.76V463.50M416.98 474.32V469.40M419.02 465.09V457.50M421.07 464.52V453.00M423.12 439.58V432.20M425.17 439.68V431.40M427.23 459.81V450.00M429.27 461.76V451.50M431.32 457.42V441.10M433.38 450.76V439.60M435.42 439.16V420.20M437.48 427.34V420.20M439.52 464.13V451.50M441.57 458.43V451.50M443.62 467.34V457.50M445.67 461.10V451.50M447.73 460.08V454.50M449.77 465.87V460.50M451.82 473.09V466.40M453.88 473.13V463.50M455.92 469.56V463.50M457.98 473.63V469.40M460.02 475.64V469.40M462.07 470.01V463.50M464.12 474.41V472.40M466.17 477.41V475.40M468.23 483.40V478.00M470.27 484.90V478.00M472.32 478.97V475.40M474.38 480.37V472.00M476.42 482.50V478.00M478.48 479.58V478.50M480.52 482.76V479.40M482.57 482.76V479.40M484.62 489.11V484.70M486.67 489.59V486.50M488.72 482.57V481.10M490.77 488.63V486.50M492.82 484.55V482.00M494.88 492.59V488.30M496.92 491.98V490.00M498.97 494.45V491.90M501.02 494.51V493.70M503.07 495.41V494.60M505.12 496.31V495.50M507.17 496.31V495.50M509.22 496.58V495.50M511.27 495.56V494.60M513.32 495.86V493.70M515.38 496.88V494.60M517.42 495.32V493.70M519.47 496.37V494.60M521.52 496.04V495.50M523.57 496.43V495.80M525.62 496.37V494.60M527.67 493.83V492.60M529.72 492.53V491.60M531.77 493.83V492.60M533.82 492.53V491.60M535.88 490.09V488.50M537.92 488.33V487.40M539.97 487.03V486.40M542.02 486.49V484.30M544.07 483.76V482.20M546.12 486.69V483.00M548.17 485.54V482.00M550.22 475.00V466.00M552.27 468.70V458.20M554.32 473.11V458.50M556.38 473.60V458.00M558.42 481.47V462.00M560.47 469.11V463.50M562.52 475.13V467.60M564.57 459.34V451.00M566.62 453.56V445.70M568.67 450.52V445.60M570.72 451.63V445.60M572.77 462.98V455.00M574.82 466.10V461.00M576.88 470.36V465.50M578.92 481.49V467.00M580.97 461.82V456.00M583.02 470.35V461.20M585.07 457.65V454.50M587.12 455.08V448.60M589.17 467.25V460.50M591.22 475.22V469.40M593.27 478.86V471.00M595.32 478.52V472.40M597.38 478.37V473.90M599.42 474.53V469.40M601.47 470.17V465.70M603.52 467.55V463.50M605.57 462.21V457.50M607.62 460.32V454.50M609.67 452.34V447.00M611.72 459.18V454.50M613.77 471.12V463.50M615.82 471.66V463.50M617.88 469.62V462.00M619.92 473.99V466.40M621.97 463.53V454.50M624.02 456.29V447.80M626.07 457.92V447.00M628.12 457.40V447.80M630.17 459.96V447.00M632.22 462.09V454.50M634.27 466.76V455.00M636.32 459.60V450.00M638.38 450.52V445.60M640.42 462.97V445.60M642.47 449.86V445.60M644.52 449.86V445.60M646.57 455.04V447.00M648.62 469.05V457.50M650.67 456.69V450.00M652.72 449.82V440.40M654.77 450.55V439.60M656.82 444.42V440.40M658.88 454.87V448.60M660.92 456.81V447.00M662.97 466.53V460.50M665.02 472.08V462.00M667.07 470.55V463.50M669.12 481.67V475.40M671.17 480.56V475.40M673.23 479.24V469.40M675.27 454.11V448.50M677.32 457.59V453.00M679.38 463.52V460.40M681.42 464.60V461.90M683.48 464.66V460.40M685.52 464.45V457.40M687.57 465.32V463.40M689.62 465.29V463.40M691.67 462.20V460.40M693.73 467.54V458.90M695.77 458.42V454.40M697.82 453.62V451.40M699.88 459.53V454.40M701.92 460.07V457.40M703.98 455.76V448.50M706.02 454.71V450.00M708.07 453.45V448.50M710.12 461.20V450.70M712.17 460.79V451.40M714.23 457.17V450.00M716.27 457.26V445.50M718.32 454.20V444.00M720.38 455.98V447.70M722.42 442.86V432.00M724.48 457.80V445.50M726.52 457.80V442.50M728.57 460.05V445.50M730.62 449.85V439.50M732.67 457.65V445.50M734.73 448.62V435.00M736.77 440.89V430.60M738.82 446.52V432.00M740.88 446.26V430.60M742.92 444.48V432.00M744.98 446.35V430.00M747.02 443.50V430.00M749.07 442.02V432.00M751.12 441.40V430.00M753.17 442.02V432.00M755.23 403.08V390.00M757.27 390.39V378.00M759.32 387.84V375.00M761.38 371.38V361.00M763.42 363.70V355.00M765.48 364.13V350.00M767.52 325.99V310.00M769.57 327.25V316.00M771.62 318.23V308.60M773.67 326.05V316.00M775.73 336.37V320.50M777.77 312.12V293.70M779.82 295.87V275.80M781.88 315.91V289.00M783.92 278.51V250.40M785.98 238.20V211.50M788.02 247.14V225.00M790.07 246.24V225.00M792.12 225.66V198.00M794.17 231.27V198.00M796.23 170.56V159.40M798.27 223.34V200.00M800.32 196.80V186.00" stroke="#6a5a40" stroke-opacity="0.45" stroke-width="0.6" fill="none"/><path d="M160.72 498.00V493.50M162.78 497.00V493.00M164.82 488.50V483.60M166.88 487.00V476.00M168.92 484.00V474.40M170.97 474.40V462.00M173.02 465.00V458.20M175.07 459.00V444.20M177.12 410.00V394.00M179.17 397.00V383.00M181.22 383.00V367.00M183.27 360.00V337.00M185.32 288.00V254.00M187.38 203.00V160.00M189.42 119.00V78.00M191.47 152.00V113.00M193.52 218.00V176.00M195.57 302.00V266.00M197.62 340.00V328.00M199.67 390.00V382.00M201.72 402.00V385.00M203.77 396.00V373.00M205.82 410.00V395.00M207.88 446.20V428.30M209.92 458.90V428.30M211.97 455.10V435.00M214.02 456.60V444.70M216.07 464.00V444.70M218.12 470.00V464.00M220.17 483.50V474.50M222.22 488.00V481.20M224.27 489.40V482.00M226.32 492.40V483.50M228.38 493.00V483.50M230.42 493.00V487.20M232.47 494.70V489.40M234.52 494.80V491.00M236.57 495.40V492.40M238.62 494.80V489.40M240.67 496.20V492.40M242.72 496.20V493.00M244.77 496.20V492.40M246.82 495.40V489.40M248.88 494.80V490.00M250.92 496.20V491.00M252.97 496.20V491.70M255.02 494.80V489.40M257.07 493.20V487.90M259.12 493.20V486.40M261.17 491.80V485.00M263.22 483.50V468.60M265.27 486.40V467.00M267.32 486.40V466.30M269.38 488.00V466.30M271.42 477.50V462.60M273.47 473.00V462.60M275.52 473.80V443.20M277.57 470.00V443.20M279.62 467.00V442.50M281.67 462.60V433.00M283.73 477.50V456.30M285.77 483.50V464.00M287.82 480.50V465.60M289.88 479.70V459.60M291.92 479.00V461.10M293.98 465.60V455.00M296.02 468.60V431.30M298.07 469.00V440.20M300.12 473.00V443.20M302.17 474.50V446.20M304.23 472.00V441.70M306.27 470.00V435.00M308.32 456.60V445.00M310.38 452.00V420.00M312.42 434.00V400.00M314.48 416.00V389.60M316.52 408.00V306.00M318.57 416.00V336.70M320.62 430.00V369.00M322.67 450.00V402.00M324.72 430.00V397.00M326.77 437.00V393.30M328.82 422.00V404.50M330.88 440.00V404.50M332.92 430.00V399.30M334.97 416.00V331.80M337.02 416.00V339.20M339.07 418.00V366.50M341.12 410.00V361.30M343.17 412.00V357.60M345.22 413.00V369.50M347.27 418.00V400.00M349.32 418.00V400.00M351.38 416.00V399.70M353.42 376.00V307.80M355.47 377.70V300.00M357.52 340.00V286.40M359.57 332.00V251.00M361.62 322.00V252.80M363.67 310.00V252.80M365.72 280.00V210.30M367.77 334.00V285.50M369.82 397.00V327.00M371.88 395.00V319.00M373.92 395.00V319.40M375.97 390.00V319.40M378.02 389.00V305.80M380.07 389.00V342.70M382.12 401.00V374.60M384.17 401.00V373.00M386.22 404.00V330.00M388.27 404.00V356.00M390.32 407.00V321.40M392.38 407.00V330.00M394.42 413.00V374.50M396.47 415.00V380.00M398.52 425.00V395.00M400.57 440.00V411.80M402.62 440.00V411.80M404.67 446.00V425.00M406.72 450.00V425.50M408.77 448.60V437.40M410.82 454.50V429.20M412.88 442.60V423.50M414.92 463.50V449.30M416.98 469.40V453.00M419.02 457.50V432.20M421.07 453.00V414.60M423.12 432.20V407.60M425.17 431.40V403.80M427.23 450.00V417.30M429.27 451.50V417.30M431.32 441.10V386.70M433.38 439.60V402.40M435.42 420.20V357.00M437.48 420.20V396.40M439.52 451.50V409.40M441.57 451.50V428.40M443.62 457.50V424.70M445.67 451.50V419.50M447.73 454.50V435.90M449.77 460.50V442.60M451.82 466.40V444.10M453.88 463.50V431.40M455.92 463.50V443.30M457.98 469.40V455.30M460.02 469.40V448.60M462.07 463.50V441.80M464.12 472.40V465.70M466.17 475.40V468.70M468.23 478.00V460.00M470.27 478.00V455.00M472.32 475.40V463.50M474.38 472.00V444.10M476.42 478.00V463.00M478.48 478.50V474.90M480.52 479.40V468.20M482.57 479.40V468.20M484.62 484.70V470.00M486.67 486.50V476.20M488.72 481.10V476.20M490.77 486.50V479.40M492.82 482.00V473.50M494.88 488.30V474.00M496.92 490.00V483.40M498.97 491.90V483.40M501.02 493.70V491.00M503.07 494.60V491.90M505.12 495.50V492.80M507.17 495.50V492.80M509.22 495.50V491.90M511.27 494.60V491.40M513.32 493.70V486.50M515.38 494.60V487.00M517.42 493.70V488.30M519.47 494.60V488.70M521.52 495.50V493.70M523.57 495.80V493.70M525.62 494.60V488.70M527.67 492.60V488.50M529.72 491.60V488.50M531.77 492.60V488.50M533.82 491.60V488.50M535.88 488.50V483.20M537.92 487.40V484.30M539.97 486.40V484.30M542.02 484.30V477.00M544.07 482.20V477.00M546.12 483.00V470.70M548.17 482.00V470.20M550.22 466.00V436.00M552.27 458.20V423.20M554.32 458.50V409.80M556.38 458.00V406.00M558.42 462.00V397.10M560.47 463.50V444.80M562.52 467.60V442.50M564.57 451.00V423.20M566.62 445.70V419.50M568.67 445.60V429.20M570.72 445.60V425.50M572.77 455.00V428.40M574.82 461.00V444.00M576.88 465.50V449.30M578.92 467.00V418.70M580.97 456.00V436.60M583.02 461.20V430.70M585.07 454.50V444.00M587.12 448.60V427.00M589.17 460.50V438.00M591.22 469.40V450.00M593.27 471.00V444.80M595.32 472.40V452.00M597.38 473.90V459.00M599.42 469.40V452.30M601.47 465.70V450.80M603.52 463.50V450.00M605.57 457.50V441.80M607.62 454.50V435.10M609.67 447.00V429.20M611.72 454.50V438.90M613.77 463.50V438.10M615.82 463.50V436.30M617.88 462.00V436.60M619.92 466.40V441.10M621.97 454.50V424.40M624.02 447.80V419.50M626.07 447.00V410.60M628.12 447.80V415.80M630.17 447.00V403.80M632.22 454.50V429.20M634.27 455.00V415.80M636.32 450.00V418.00M638.38 445.60V429.20M640.42 445.60V387.70M642.47 445.60V431.40M644.52 445.60V431.40M646.57 447.00V420.20M648.62 457.50V419.00M650.67 450.00V427.70M652.72 440.40V409.00M654.77 439.60V403.10M656.82 440.40V427.00M658.88 448.60V427.70M660.92 447.00V414.30M662.97 460.50V440.40M665.02 462.00V428.40M667.07 463.50V440.00M669.12 475.40V454.50M671.17 475.40V458.20M673.23 469.40V436.60M675.27 448.50V429.80M677.32 453.00V437.70M679.38 460.40V450.00M681.42 461.90V452.90M683.48 460.40V446.20M685.52 457.40V433.90M687.57 463.40V457.00M689.62 463.40V457.10M691.67 460.40V454.40M693.73 458.90V430.10M695.77 454.40V441.00M697.82 451.40V444.00M699.88 454.40V437.30M701.92 457.40V448.50M703.98 448.50V424.30M706.02 450.00V434.30M708.07 448.50V432.00M710.12 450.70V415.70M712.17 451.40V420.10M714.23 450.00V426.10M716.27 445.50V406.30M718.32 444.00V410.00M720.38 447.70V420.10M722.42 432.00V395.80M724.48 445.50V404.50M726.52 442.50V391.50M728.57 445.50V397.00M730.62 439.50V405.00M732.67 445.50V405.00M734.73 435.00V389.60M736.77 430.60V396.30M738.82 432.00V383.60M740.88 430.60V378.40M742.92 432.00V390.40M744.98 430.00V375.50M747.02 430.00V385.00M749.07 432.00V398.60M751.12 430.00V392.00M753.17 432.00V398.60M755.23 390.00V346.40M757.27 378.00V336.70M759.32 375.00V332.20M761.38 361.00V326.40M763.42 355.00V326.00M765.48 350.00V302.90M767.52 310.00V256.70M769.57 316.00V278.50M771.62 308.60V276.50M773.67 316.00V282.50M775.73 320.50V267.60M777.77 293.70V232.30M779.82 275.80V208.90M781.88 289.00V199.30M783.92 250.40V156.70M785.98 211.50V122.50M788.02 225.00V151.20M790.07 225.00V154.20M792.12 198.00V105.80M794.17 198.00V87.10M796.23 159.40V122.20M798.27 200.00V122.20M800.32 186.00V150.00" stroke="#7E7E7E" stroke-width="0.65" fill="none"/><path d="M159.12 493.50h3.2M161.18 493.00h3.2M161.18 498.20h3.2M163.22 483.60h3.2M163.22 489.97h3.2M165.28 476.00h3.2M165.28 490.30h3.2M167.32 474.40h3.2M167.32 486.88h3.2M169.38 462.00h3.2M169.38 478.12h3.2M171.42 458.20h3.2M171.42 467.04h3.2M173.47 444.20h3.2M173.47 463.44h3.2M175.53 394.00h3.2M175.53 414.80h3.2M177.57 383.00h3.2M177.57 401.20h3.2M179.62 367.00h3.2M179.62 387.80h3.2M181.67 337.00h3.2M181.67 366.90h3.2M183.72 254.00h3.2M183.72 298.20h3.2M185.78 160.00h3.2M185.78 215.90h3.2M187.82 78.00h3.2M187.82 131.30h3.2M189.88 113.00h3.2M189.88 163.70h3.2M191.92 176.00h3.2M191.92 230.60h3.2M193.97 266.00h3.2M193.97 312.80h3.2M196.03 328.00h3.2M196.03 343.60h3.2M198.07 382.00h3.2M198.07 392.40h3.2M200.12 385.00h3.2M200.12 407.10h3.2M202.17 373.00h3.2M202.17 402.90h3.2M204.22 395.00h3.2M204.22 414.50h3.2M206.28 428.30h3.2M206.28 451.57h3.2M208.32 428.30h3.2M208.32 468.08h3.2M210.38 435.00h3.2M210.38 461.13h3.2M212.42 444.70h3.2M212.42 460.17h3.2M214.47 444.70h3.2M214.47 469.79h3.2M216.53 464.00h3.2M216.53 471.80h3.2M218.57 474.50h3.2M218.57 486.20h3.2M220.62 481.20h3.2M220.62 490.04h3.2M222.67 482.00h3.2M222.67 491.62h3.2M224.72 483.50h3.2M224.72 495.07h3.2M226.78 483.50h3.2M226.78 495.85h3.2M228.82 487.20h3.2M228.82 494.74h3.2M230.88 489.40h3.2M230.88 496.29h3.2M232.92 491.00h3.2M232.92 495.94h3.2M234.97 492.40h3.2M234.97 496.30h3.2M237.03 489.40h3.2M237.03 496.42h3.2M239.07 492.40h3.2M239.07 497.34h3.2M241.12 493.00h3.2M241.12 497.16h3.2M243.17 492.40h3.2M243.17 497.34h3.2M245.22 489.40h3.2M245.22 497.20h3.2M247.28 490.00h3.2M247.28 496.24h3.2M249.32 491.00h3.2M249.32 497.76h3.2M251.37 491.70h3.2M251.37 497.55h3.2M253.42 489.40h3.2M253.42 496.42h3.2M255.47 487.90h3.2M255.47 494.79h3.2M257.52 486.40h3.2M257.52 495.24h3.2M259.57 485.00h3.2M259.57 493.84h3.2M261.62 468.60h3.2M261.62 487.97h3.2M263.67 467.00h3.2M263.67 492.22h3.2M265.72 466.30h3.2M265.72 492.43h3.2M267.77 466.30h3.2M267.77 494.51h3.2M269.82 462.60h3.2M269.82 481.97h3.2M271.87 462.60h3.2M271.87 476.12h3.2M273.92 443.20h3.2M273.92 482.98h3.2M275.97 443.20h3.2M275.97 478.04h3.2M278.02 442.50h3.2M278.02 474.35h3.2M280.07 433.00h3.2M280.07 471.48h3.2M282.12 456.30h3.2M282.12 483.86h3.2M284.17 464.00h3.2M284.17 489.35h3.2M286.22 465.60h3.2M286.22 484.97h3.2M288.27 459.60h3.2M288.27 485.73h3.2M290.32 461.10h3.2M290.32 484.37h3.2M292.38 455.00h3.2M292.38 468.78h3.2M294.42 431.30h3.2M294.42 479.79h3.2M296.47 440.20h3.2M296.47 477.64h3.2M298.52 443.20h3.2M298.52 481.94h3.2M300.57 446.20h3.2M300.57 482.99h3.2M302.62 441.70h3.2M302.62 481.09h3.2M304.67 435.00h3.2M304.67 480.50h3.2M306.72 445.00h3.2M306.72 460.08h3.2M308.77 420.00h3.2M308.77 461.60h3.2M310.82 400.00h3.2M310.82 444.20h3.2M312.88 389.60h3.2M312.88 423.92h3.2M314.92 306.00h3.2M314.92 438.60h3.2M316.97 336.70h3.2M316.97 439.79h3.2M319.02 369.00h3.2M319.02 448.30h3.2M321.07 402.00h3.2M321.07 464.40h3.2M323.12 397.00h3.2M323.12 439.90h3.2M325.17 393.30h3.2M325.17 450.11h3.2M327.22 404.50h3.2M327.22 427.25h3.2M329.27 404.50h3.2M329.27 450.65h3.2M331.32 399.30h3.2M331.32 439.21h3.2M333.37 331.80h3.2M333.37 441.26h3.2M335.42 339.20h3.2M335.42 439.04h3.2M337.47 366.50h3.2M337.47 433.45h3.2M339.52 361.30h3.2M339.52 424.61h3.2M341.57 357.60h3.2M341.57 428.32h3.2M343.62 369.50h3.2M343.62 426.05h3.2M345.67 400.00h3.2M345.67 423.40h3.2M347.72 400.00h3.2M347.72 423.40h3.2M349.77 399.70h3.2M349.77 420.89h3.2M351.82 307.80h3.2M351.82 396.46h3.2M353.87 300.00h3.2M353.87 401.01h3.2M355.92 286.40h3.2M355.92 356.08h3.2M357.97 251.00h3.2M357.97 356.30h3.2M360.02 252.80h3.2M360.02 342.76h3.2M362.07 252.80h3.2M362.07 327.16h3.2M364.12 210.30h3.2M364.12 300.91h3.2M366.17 285.50h3.2M366.17 348.55h3.2M368.22 327.00h3.2M368.22 418.00h3.2M370.27 319.00h3.2M370.27 417.80h3.2M372.32 319.40h3.2M372.32 417.68h3.2M374.37 319.40h3.2M374.37 411.18h3.2M376.42 305.80h3.2M376.42 413.96h3.2M378.47 342.70h3.2M378.47 402.89h3.2M380.52 374.60h3.2M380.52 408.92h3.2M382.57 373.00h3.2M382.57 409.40h3.2M384.62 330.00h3.2M384.62 426.20h3.2M386.67 356.00h3.2M386.67 418.40h3.2M388.72 321.40h3.2M388.72 432.68h3.2M390.77 330.00h3.2M390.77 430.10h3.2M392.82 374.50h3.2M392.82 424.55h3.2M394.87 380.00h3.2M394.87 425.50h3.2M396.92 395.00h3.2M396.92 434.00h3.2M398.97 411.80h3.2M398.97 448.46h3.2M401.02 411.80h3.2M401.02 448.46h3.2M403.07 425.00h3.2M403.07 452.30h3.2M405.12 425.50h3.2M405.12 457.35h3.2M407.17 437.40h3.2M407.17 451.96h3.2M409.22 429.20h3.2M409.22 462.09h3.2M411.27 423.50h3.2M411.27 448.33h3.2M413.32 449.30h3.2M413.32 467.76h3.2M415.38 453.00h3.2M415.38 474.32h3.2M417.42 432.20h3.2M417.42 465.09h3.2M419.47 414.60h3.2M419.47 464.52h3.2M421.52 407.60h3.2M421.52 439.58h3.2M423.57 403.80h3.2M423.57 439.68h3.2M425.62 417.30h3.2M425.62 459.81h3.2M427.67 417.30h3.2M427.67 461.76h3.2M429.72 386.70h3.2M429.72 457.42h3.2M431.77 402.40h3.2M431.77 450.76h3.2M433.82 357.00h3.2M433.82 439.16h3.2M435.88 396.40h3.2M435.88 427.34h3.2M437.92 409.40h3.2M437.92 464.13h3.2M439.97 428.40h3.2M439.97 458.43h3.2M442.02 424.70h3.2M442.02 467.34h3.2M444.07 419.50h3.2M444.07 461.10h3.2M446.12 435.90h3.2M446.12 460.08h3.2M448.17 442.60h3.2M448.17 465.87h3.2M450.22 444.10h3.2M450.22 473.09h3.2M452.27 431.40h3.2M452.27 473.13h3.2M454.32 443.30h3.2M454.32 469.56h3.2M456.38 455.30h3.2M456.38 473.63h3.2M458.42 448.60h3.2M458.42 475.64h3.2M460.47 441.80h3.2M460.47 470.01h3.2M462.52 465.70h3.2M462.52 474.41h3.2M464.57 468.70h3.2M464.57 477.41h3.2M466.62 460.00h3.2M466.62 483.40h3.2M468.67 455.00h3.2M468.67 484.90h3.2M470.72 463.50h3.2M470.72 478.97h3.2M472.77 444.10h3.2M472.77 480.37h3.2M474.82 463.00h3.2M474.82 482.50h3.2M476.88 474.90h3.2M476.88 479.58h3.2M478.92 468.20h3.2M478.92 482.76h3.2M480.97 468.20h3.2M480.97 482.76h3.2M483.02 470.00h3.2M483.02 489.11h3.2M485.07 476.20h3.2M485.07 489.59h3.2M487.12 476.20h3.2M487.12 482.57h3.2M489.17 479.40h3.2M489.17 488.63h3.2M491.22 473.50h3.2M491.22 484.55h3.2M493.27 474.00h3.2M493.27 492.59h3.2M495.32 483.40h3.2M495.32 491.98h3.2M497.37 483.40h3.2M497.37 494.45h3.2M499.42 491.00h3.2M499.42 494.51h3.2M501.47 491.90h3.2M501.47 495.41h3.2M503.52 492.80h3.2M503.52 496.31h3.2M505.57 492.80h3.2M505.57 496.31h3.2M507.62 491.90h3.2M507.62 496.58h3.2M509.67 491.40h3.2M509.67 495.56h3.2M511.72 486.50h3.2M511.72 495.86h3.2M513.77 487.00h3.2M513.77 496.88h3.2M515.82 488.30h3.2M515.82 495.32h3.2M517.87 488.70h3.2M517.87 496.37h3.2M519.92 493.70h3.2M519.92 496.04h3.2M521.97 493.70h3.2M521.97 496.43h3.2M524.02 488.70h3.2M524.02 496.37h3.2M526.07 488.50h3.2M526.07 493.83h3.2M528.12 488.50h3.2M528.12 492.53h3.2M530.17 488.50h3.2M530.17 493.83h3.2M532.22 488.50h3.2M532.22 492.53h3.2M534.27 483.20h3.2M534.27 490.09h3.2M536.32 484.30h3.2M536.32 488.33h3.2M538.37 484.30h3.2M538.37 487.03h3.2M540.42 477.00h3.2M540.42 486.49h3.2M542.47 477.00h3.2M542.47 483.76h3.2M544.52 470.70h3.2M544.52 486.69h3.2M546.57 470.20h3.2M546.57 485.54h3.2M548.62 436.00h3.2M548.62 475.00h3.2M550.67 423.20h3.2M550.67 468.70h3.2M552.72 409.80h3.2M552.72 473.11h3.2M554.77 406.00h3.2M554.77 473.60h3.2M556.82 397.10h3.2M556.82 481.47h3.2M558.87 444.80h3.2M558.87 469.11h3.2M560.92 442.50h3.2M560.92 475.13h3.2M562.97 423.20h3.2M562.97 459.34h3.2M565.02 419.50h3.2M565.02 453.56h3.2M567.07 429.20h3.2M567.07 450.52h3.2M569.12 425.50h3.2M569.12 451.63h3.2M571.17 428.40h3.2M571.17 462.98h3.2M573.22 444.00h3.2M573.22 466.10h3.2M575.27 449.30h3.2M575.27 470.36h3.2M577.32 418.70h3.2M577.32 481.49h3.2M579.37 436.60h3.2M579.37 461.82h3.2M581.42 430.70h3.2M581.42 470.35h3.2M583.47 444.00h3.2M583.47 457.65h3.2M585.52 427.00h3.2M585.52 455.08h3.2M587.57 438.00h3.2M587.57 467.25h3.2M589.62 450.00h3.2M589.62 475.22h3.2M591.67 444.80h3.2M591.67 478.86h3.2M593.72 452.00h3.2M593.72 478.52h3.2M595.77 459.00h3.2M595.77 478.37h3.2M597.82 452.30h3.2M597.82 474.53h3.2M599.87 450.80h3.2M599.87 470.17h3.2M601.92 450.00h3.2M601.92 467.55h3.2M603.97 441.80h3.2M603.97 462.21h3.2M606.02 435.10h3.2M606.02 460.32h3.2M608.07 429.20h3.2M608.07 452.34h3.2M610.12 438.90h3.2M610.12 459.18h3.2M612.17 438.10h3.2M612.17 471.12h3.2M614.22 436.30h3.2M614.22 471.66h3.2M616.27 436.60h3.2M616.27 469.62h3.2M618.32 441.10h3.2M618.32 473.99h3.2M620.37 424.40h3.2M620.37 463.53h3.2M622.42 419.50h3.2M622.42 456.29h3.2M624.47 410.60h3.2M624.47 457.92h3.2M626.52 415.80h3.2M626.52 457.40h3.2M628.57 403.80h3.2M628.57 459.96h3.2M630.62 429.20h3.2M630.62 462.09h3.2M632.67 415.80h3.2M632.67 466.76h3.2M634.72 418.00h3.2M634.72 459.60h3.2M636.77 429.20h3.2M636.77 450.52h3.2M638.82 387.70h3.2M638.82 462.97h3.2M640.87 431.40h3.2M640.87 449.86h3.2M642.92 431.40h3.2M642.92 449.86h3.2M644.97 420.20h3.2M644.97 455.04h3.2M647.02 419.00h3.2M647.02 469.05h3.2M649.07 427.70h3.2M649.07 456.69h3.2M651.12 409.00h3.2M651.12 449.82h3.2M653.17 403.10h3.2M653.17 450.55h3.2M655.22 427.00h3.2M655.22 444.42h3.2M657.27 427.70h3.2M657.27 454.87h3.2M659.32 414.30h3.2M659.32 456.81h3.2M661.37 440.40h3.2M661.37 466.53h3.2M663.42 428.40h3.2M663.42 472.08h3.2M665.47 440.00h3.2M665.47 470.55h3.2M667.52 454.50h3.2M667.52 481.67h3.2M669.57 458.20h3.2M669.57 480.56h3.2M671.62 436.60h3.2M671.62 479.24h3.2M673.67 429.80h3.2M673.67 454.11h3.2M675.72 437.70h3.2M675.72 457.59h3.2M677.77 450.00h3.2M677.77 463.52h3.2M679.82 452.90h3.2M679.82 464.60h3.2M681.88 446.20h3.2M681.88 464.66h3.2M683.92 433.90h3.2M683.92 464.45h3.2M685.97 457.00h3.2M685.97 465.32h3.2M688.02 457.10h3.2M688.02 465.29h3.2M690.07 454.40h3.2M690.07 462.20h3.2M692.12 430.10h3.2M692.12 467.54h3.2M694.17 441.00h3.2M694.17 458.42h3.2M696.22 444.00h3.2M696.22 453.62h3.2M698.27 437.30h3.2M698.27 459.53h3.2M700.32 448.50h3.2M700.32 460.07h3.2M702.38 424.30h3.2M702.38 455.76h3.2M704.42 434.30h3.2M704.42 454.71h3.2M706.47 432.00h3.2M706.47 453.45h3.2M708.52 415.70h3.2M708.52 461.20h3.2M710.57 420.10h3.2M710.57 460.79h3.2M712.62 426.10h3.2M712.62 457.17h3.2M714.67 406.30h3.2M714.67 457.26h3.2M716.72 410.00h3.2M716.72 454.20h3.2M718.77 420.10h3.2M718.77 455.98h3.2M720.82 395.80h3.2M720.82 442.86h3.2M722.88 404.50h3.2M722.88 457.80h3.2M724.92 391.50h3.2M724.92 457.80h3.2M726.97 397.00h3.2M726.97 460.05h3.2M729.02 405.00h3.2M729.02 449.85h3.2M731.07 405.00h3.2M731.07 457.65h3.2M733.12 389.60h3.2M733.12 448.62h3.2M735.17 396.30h3.2M735.17 440.89h3.2M737.22 383.60h3.2M737.22 446.52h3.2M739.27 378.40h3.2M739.27 446.26h3.2M741.32 390.40h3.2M741.32 444.48h3.2M743.38 375.50h3.2M743.38 446.35h3.2M745.42 385.00h3.2M745.42 443.50h3.2M747.47 398.60h3.2M747.47 442.02h3.2M749.52 392.00h3.2M749.52 441.40h3.2M751.57 398.60h3.2M751.57 442.02h3.2M753.62 346.40h3.2M753.62 403.08h3.2M755.67 336.70h3.2M755.67 390.39h3.2M757.72 332.20h3.2M757.72 387.84h3.2M759.77 326.40h3.2M759.77 371.38h3.2M761.82 326.00h3.2M761.82 363.70h3.2M763.88 302.90h3.2M763.88 364.13h3.2M765.92 256.70h3.2M765.92 325.99h3.2M767.97 278.50h3.2M767.97 327.25h3.2M770.02 276.50h3.2M770.02 318.23h3.2M772.07 282.50h3.2M772.07 326.05h3.2M774.12 267.60h3.2M774.12 336.37h3.2M776.17 232.30h3.2M776.17 312.12h3.2M778.22 208.90h3.2M778.22 295.87h3.2M780.27 199.30h3.2M780.27 315.91h3.2M782.32 156.70h3.2M782.32 278.51h3.2M784.38 122.50h3.2M784.38 238.20h3.2M786.42 151.20h3.2M786.42 247.14h3.2M788.47 154.20h3.2M788.47 246.24h3.2M790.52 105.80h3.2M790.52 225.66h3.2M792.57 87.10h3.2M792.57 231.27h3.2M794.62 122.20h3.2M794.62 170.56h3.2M796.67 122.20h3.2M796.67 223.34h3.2M798.72 150.00h3.2M798.72 196.80h3.2" stroke="#555" stroke-width="0.9" fill="none"/>
<path d="M155.6 500.2V70.6H801.3V500.2" fill="none" stroke="#5a5a5a" stroke-width="1.2"/><path d="M155 499.6H162" stroke="#4a4a4a" stroke-width="1.6"/>
<g font-size="10.6" fill="#2a2a2a" text-anchor="end"><text x="145.7" y="503.60">0</text><text x="145.7" y="417.75">50</text><text x="145.7" y="331.90">100</text><text x="145.7" y="246.05">150</text><text x="145.7" y="160.20">200</text><text x="145.7" y="74.35">250</text></g>
<g font-size="8.6" fill="#262626" text-anchor="end">
<text transform="translate(159.50,506.9) rotate(-90)">5-Οκτ</text>
<text transform="translate(167.69,506.9) rotate(-90)">16-Οκτ</text>
<text transform="translate(175.89,506.9) rotate(-90)">26-Οκτ</text>
<text transform="translate(184.09,506.9) rotate(-90)">4-Νοε</text>
<text transform="translate(192.28,506.9) rotate(-90)">13-Νοε</text>
<text transform="translate(200.47,506.9) rotate(-90)">23-Νοε</text>
<text transform="translate(208.67,506.9) rotate(-90)">02-Δεκ</text>
<text transform="translate(216.87,506.9) rotate(-90)">11-Δεκ</text>
<text transform="translate(225.06,506.9) rotate(-90)">21-Δεκ</text>
<text transform="translate(233.25,506.9) rotate(-90)">30-Δεκ</text>
<text transform="translate(241.45,506.9) rotate(-90)">8-Ιαν</text>
<text transform="translate(249.65,506.9) rotate(-90)">18-Ιαν</text>
<text transform="translate(257.84,506.9) rotate(-90)">27-Ιαν</text>
<text transform="translate(266.03,506.9) rotate(-90)">05-Φεβ</text>
<text transform="translate(274.23,506.9) rotate(-90)">10-Φεβ</text>
<text transform="translate(282.43,506.9) rotate(-90)">15-Φεβ</text>
<text transform="translate(290.62,506.9) rotate(-90)">19-Φεβ</text>
<text transform="translate(298.81,506.9) rotate(-90)">24-Φεβ</text>
<text transform="translate(307.01,506.9) rotate(-90)">01-Μαρ</text>
<text transform="translate(315.21,506.9) rotate(-90)">05-Μαρ</text>
<text transform="translate(323.40,506.9) rotate(-90)">10-Μαρ</text>
<text transform="translate(331.60,506.9) rotate(-90)">15-Μαρ</text>
<text transform="translate(339.79,506.9) rotate(-90)">19-Μαρ</text>
<text transform="translate(347.99,506.9) rotate(-90)">24-Μαρ</text>
<text transform="translate(356.18,506.9) rotate(-90)">29-Μαρ</text>
<text transform="translate(364.38,506.9) rotate(-90)">02-Απρ</text>
<text transform="translate(372.57,506.9) rotate(-90)">07-Απρ</text>
<text transform="translate(380.76,506.9) rotate(-90)">12-Απρ</text>
<text transform="translate(388.96,506.9) rotate(-90)">16-Απρ</text>
<text transform="translate(397.15,506.9) rotate(-90)">21-Απρ</text>
<text transform="translate(405.35,506.9) rotate(-90)">26-Απρ</text>
<text transform="translate(413.55,506.9) rotate(-90)">30-Απρ</text>
<text transform="translate(421.74,506.9) rotate(-90)">05-Μαϊ</text>
<text transform="translate(429.94,506.9) rotate(-90)">09-Μαϊ</text>
<text transform="translate(438.13,506.9) rotate(-90)">13-Μαϊ</text>
<text transform="translate(446.32,506.9) rotate(-90)">18-Μαϊ</text>
<text transform="translate(454.52,506.9) rotate(-90)">23-Μαϊ</text>
<text transform="translate(462.72,506.9) rotate(-90)">27-Μαϊ</text>
<text transform="translate(470.91,506.9) rotate(-90)">01-Ιουν</text>
<text transform="translate(479.11,506.9) rotate(-90)">06-Ιουν</text>
<text transform="translate(487.30,506.9) rotate(-90)">10-Ιουν</text>
<text transform="translate(495.50,506.9) rotate(-90)">14-Ιουν</text>
<text transform="translate(503.69,506.9) rotate(-90)">18-Ιουν</text>
<text transform="translate(511.88,506.9) rotate(-90)">22-Ιουν</text>
<text transform="translate(520.08,506.9) rotate(-90)">26-Ιουν</text>
<text transform="translate(528.28,506.9) rotate(-90)">30-Ιουν</text>
<text transform="translate(536.47,506.9) rotate(-90)">04-Ιουλ</text>
<text transform="translate(544.66,506.9) rotate(-90)">08-Ιουλ</text>
<text transform="translate(552.86,506.9) rotate(-90)">12-Ιουλ</text>
<text transform="translate(561.06,506.9) rotate(-90)">16-Ιουλ</text>
<text transform="translate(569.25,506.9) rotate(-90)">20-Ιουλ</text>
<text transform="translate(577.44,506.9) rotate(-90)">24-Ιουλ</text>
<text transform="translate(585.64,506.9) rotate(-90)">28-Ιουλ</text>
<text transform="translate(593.84,506.9) rotate(-90)">01-Αυγ</text>
<text transform="translate(602.03,506.9) rotate(-90)">05-Αυγ</text>
<text transform="translate(610.23,506.9) rotate(-90)">09-Αυγ</text>
<text transform="translate(618.42,506.9) rotate(-90)">13-Αυγ</text>
<text transform="translate(626.62,506.9) rotate(-90)">17-Αυγ</text>
<text transform="translate(634.81,506.9) rotate(-90)">21-Αυγ</text>
<text transform="translate(643.00,506.9) rotate(-90)">25-Αυγ</text>
<text transform="translate(651.20,506.9) rotate(-90)">29-Αυγ</text>
<text transform="translate(659.39,506.9) rotate(-90)">02-Σεπ</text>
<text transform="translate(667.59,506.9) rotate(-90)">06-Σεπ</text>
<text transform="translate(675.78,506.9) rotate(-90)">10-Σεπ</text>
<text transform="translate(683.98,506.9) rotate(-90)">14-Σεπ</text>
<text transform="translate(692.18,506.9) rotate(-90)">18-Σεπ</text>
<text transform="translate(700.37,506.9) rotate(-90)">22-Σεπ</text>
<text transform="translate(708.57,506.9) rotate(-90)">26-Σεπ</text>
<text transform="translate(716.76,506.9) rotate(-90)">30-Σεπ</text>
<text transform="translate(724.96,506.9) rotate(-90)">04-Οκτ</text>
<text transform="translate(733.15,506.9) rotate(-90)">08-Οκτ</text>
<text transform="translate(741.35,506.9) rotate(-90)">12-Οκτ</text>
<text transform="translate(749.54,506.9) rotate(-90)">16-Οκτ</text>
<text transform="translate(757.74,506.9) rotate(-90)">20-Οκτ</text>
<text transform="translate(765.93,506.9) rotate(-90)">24-Οκτ</text>
<text transform="translate(774.12,506.9) rotate(-90)">28-Οκτ</text>
<text transform="translate(782.32,506.9) rotate(-90)">01-Νοε</text>
<text transform="translate(790.51,506.9) rotate(-90)">05-Νοε</text>
<text transform="translate(798.71,506.9) rotate(-90)">09-Νοε</text>
</g>
<text transform="translate(89.9,435.9) rotate(-90)" font-size="15.4" font-weight="bold" fill="#111" textLength="297.4" lengthAdjust="spacingAndGlyphs">Σχετικός Ρυθμός Έκκρισης Ιικού Φορτίου</text>
<text x="426.1" y="580.7" font-size="15.4" font-weight="bold" fill="#111" textLength="89.7" lengthAdjust="spacingAndGlyphs">Ημερομηνία</text>
</svg>
</body></html>
